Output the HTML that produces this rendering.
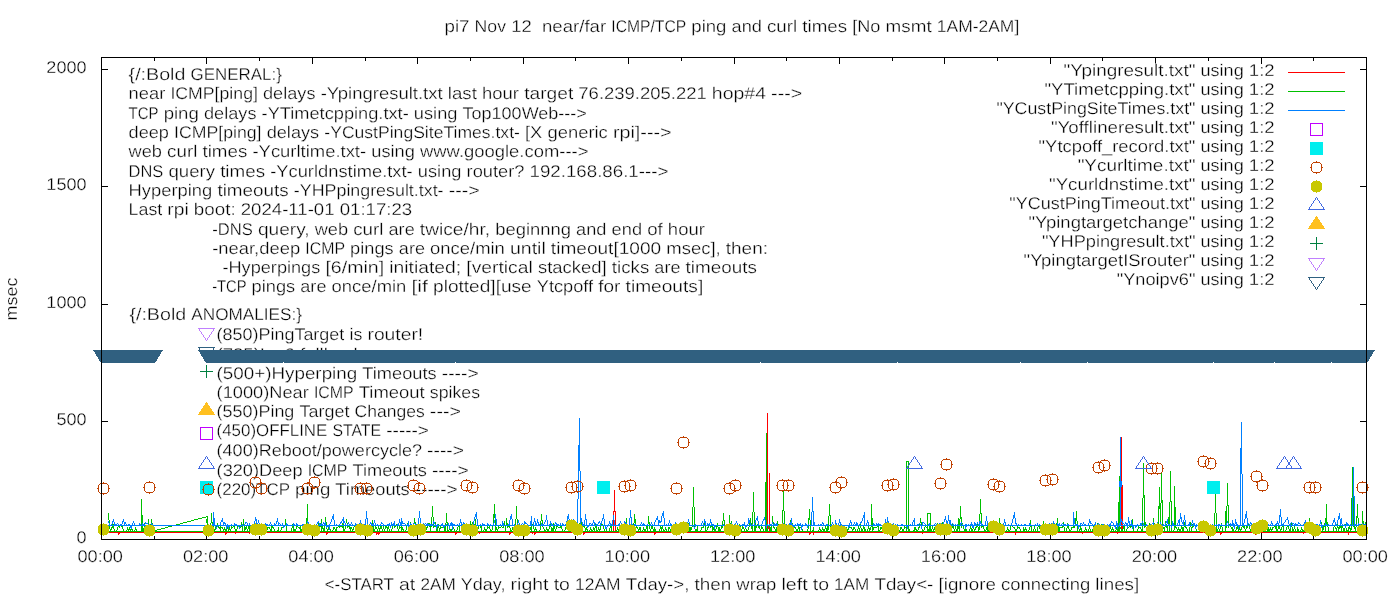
<!DOCTYPE html>
<html><head><meta charset="utf-8"><title>pi7 ping plot</title>
<style>
html,body{margin:0;padding:0;background:#fff;}
svg{display:block;}
.t text{font-family:"Liberation Sans",sans-serif;font-size:16.95px;fill:#000;stroke:#fff;stroke-width:0.3px;text-rendering:geometricPrecision;}
.t{opacity:0.995;}
</style></head><body>
<svg width="1400" height="600" viewBox="0 0 1400 600">
<rect width="1400" height="600" fill="#fff"/>
<defs><clipPath id="c725"><rect x="200" y="340" width="300" height="11"/></clipPath></defs>

<g shape-rendering="crispEdges">
<rect x="101" y="533" width="1" height="7" fill="#000"/>
<rect x="101" y="57" width="1" height="7" fill="#000"/>
<rect x="154" y="536" width="1" height="4" fill="#000"/>
<rect x="154" y="57" width="1" height="4" fill="#000"/>
<rect x="206" y="533" width="1" height="7" fill="#000"/>
<rect x="206" y="57" width="1" height="7" fill="#000"/>
<rect x="259" y="536" width="1" height="4" fill="#000"/>
<rect x="259" y="57" width="1" height="4" fill="#000"/>
<rect x="312" y="533" width="1" height="7" fill="#000"/>
<rect x="312" y="57" width="1" height="7" fill="#000"/>
<rect x="365" y="536" width="1" height="4" fill="#000"/>
<rect x="365" y="57" width="1" height="4" fill="#000"/>
<rect x="417" y="533" width="1" height="7" fill="#000"/>
<rect x="417" y="57" width="1" height="7" fill="#000"/>
<rect x="470" y="536" width="1" height="4" fill="#000"/>
<rect x="470" y="57" width="1" height="4" fill="#000"/>
<rect x="523" y="533" width="1" height="7" fill="#000"/>
<rect x="523" y="57" width="1" height="7" fill="#000"/>
<rect x="575" y="536" width="1" height="4" fill="#000"/>
<rect x="575" y="57" width="1" height="4" fill="#000"/>
<rect x="628" y="533" width="1" height="7" fill="#000"/>
<rect x="628" y="57" width="1" height="7" fill="#000"/>
<rect x="681" y="536" width="1" height="4" fill="#000"/>
<rect x="681" y="57" width="1" height="4" fill="#000"/>
<rect x="734" y="533" width="1" height="7" fill="#000"/>
<rect x="734" y="57" width="1" height="7" fill="#000"/>
<rect x="786" y="536" width="1" height="4" fill="#000"/>
<rect x="786" y="57" width="1" height="4" fill="#000"/>
<rect x="839" y="533" width="1" height="7" fill="#000"/>
<rect x="839" y="57" width="1" height="7" fill="#000"/>
<rect x="892" y="536" width="1" height="4" fill="#000"/>
<rect x="892" y="57" width="1" height="4" fill="#000"/>
<rect x="944" y="533" width="1" height="7" fill="#000"/>
<rect x="944" y="57" width="1" height="7" fill="#000"/>
<rect x="997" y="536" width="1" height="4" fill="#000"/>
<rect x="997" y="57" width="1" height="4" fill="#000"/>
<rect x="1050" y="533" width="1" height="7" fill="#000"/>
<rect x="1050" y="57" width="1" height="7" fill="#000"/>
<rect x="1102" y="536" width="1" height="4" fill="#000"/>
<rect x="1102" y="57" width="1" height="4" fill="#000"/>
<rect x="1155" y="533" width="1" height="7" fill="#000"/>
<rect x="1155" y="57" width="1" height="7" fill="#000"/>
<rect x="1208" y="536" width="1" height="4" fill="#000"/>
<rect x="1208" y="57" width="1" height="4" fill="#000"/>
<rect x="1261" y="533" width="1" height="7" fill="#000"/>
<rect x="1261" y="57" width="1" height="7" fill="#000"/>
<rect x="1313" y="536" width="1" height="4" fill="#000"/>
<rect x="1313" y="57" width="1" height="4" fill="#000"/>
<rect x="1366" y="533" width="1" height="7" fill="#000"/>
<rect x="1366" y="57" width="1" height="7" fill="#000"/>
<rect x="101" y="539" width="7" height="1" fill="#000"/>
<rect x="1360" y="539" width="7" height="1" fill="#000"/>
<rect x="101" y="421" width="7" height="1" fill="#000"/>
<rect x="1360" y="421" width="7" height="1" fill="#000"/>
<rect x="101" y="304" width="7" height="1" fill="#000"/>
<rect x="1360" y="304" width="7" height="1" fill="#000"/>
<rect x="101" y="186" width="7" height="1" fill="#000"/>
<rect x="1360" y="186" width="7" height="1" fill="#000"/>
<rect x="101" y="69" width="7" height="1" fill="#000"/>
<rect x="1360" y="69" width="7" height="1" fill="#000"/>
</g>
<g class="t">
<text x="77.53" y="562.00" textLength="45.45" lengthAdjust="spacingAndGlyphs">00:00</text>
<text x="182.94" y="562.00" textLength="45.45" lengthAdjust="spacingAndGlyphs">02:00</text>
<text x="288.36" y="562.00" textLength="45.45" lengthAdjust="spacingAndGlyphs">04:00</text>
<text x="393.78" y="562.00" textLength="45.45" lengthAdjust="spacingAndGlyphs">06:00</text>
<text x="499.19" y="562.00" textLength="45.45" lengthAdjust="spacingAndGlyphs">08:00</text>
<text x="604.61" y="562.00" textLength="45.45" lengthAdjust="spacingAndGlyphs">10:00</text>
<text x="710.03" y="562.00" textLength="45.45" lengthAdjust="spacingAndGlyphs">12:00</text>
<text x="815.44" y="562.00" textLength="45.45" lengthAdjust="spacingAndGlyphs">14:00</text>
<text x="920.86" y="562.00" textLength="45.45" lengthAdjust="spacingAndGlyphs">16:00</text>
<text x="1026.28" y="562.00" textLength="45.45" lengthAdjust="spacingAndGlyphs">18:00</text>
<text x="1131.69" y="562.00" textLength="45.45" lengthAdjust="spacingAndGlyphs">20:00</text>
<text x="1237.11" y="562.00" textLength="45.45" lengthAdjust="spacingAndGlyphs">22:00</text>
<text x="1342.53" y="562.00" textLength="45.45" lengthAdjust="spacingAndGlyphs">00:00</text>
<text x="76.47" y="543.00" textLength="10.03" lengthAdjust="spacingAndGlyphs">0</text>
<text x="56.40" y="425.00" textLength="30.10" lengthAdjust="spacingAndGlyphs">500</text>
<text x="46.36" y="308.00" textLength="40.14" lengthAdjust="spacingAndGlyphs">1000</text>
<text x="46.36" y="190.00" textLength="40.14" lengthAdjust="spacingAndGlyphs">1500</text>
<text x="46.36" y="73.00" textLength="40.14" lengthAdjust="spacingAndGlyphs">2000</text>
<text x="444.54" y="32.00" textLength="24.96" lengthAdjust="spacingAndGlyphs">pi7</text><text x="474.62" y="32.00" textLength="31.44" lengthAdjust="spacingAndGlyphs">Nov</text><text x="511.19" y="32.00" textLength="20.51" lengthAdjust="spacingAndGlyphs">12</text><text x="541.95" y="32.00" textLength="64.21" lengthAdjust="spacingAndGlyphs">near/far</text><text x="611.29" y="32.00" textLength="74.91" lengthAdjust="spacingAndGlyphs">ICMP/TCP</text><text x="691.32" y="32.00" textLength="35.13" lengthAdjust="spacingAndGlyphs">ping</text><text x="731.58" y="32.00" textLength="30.31" lengthAdjust="spacingAndGlyphs">and</text><text x="767.01" y="32.00" textLength="30.16" lengthAdjust="spacingAndGlyphs">curl</text><text x="802.30" y="32.00" textLength="44.80" lengthAdjust="spacingAndGlyphs">times</text><text x="852.23" y="32.00" textLength="28.20" lengthAdjust="spacingAndGlyphs">[No</text><text x="885.56" y="32.00" textLength="46.11" lengthAdjust="spacingAndGlyphs">msmt</text><text x="936.79" y="32.00" textLength="82.47" lengthAdjust="spacingAndGlyphs">1AM-2AM]</text>
<text x="324.77" y="590.00" textLength="69.16" lengthAdjust="spacingAndGlyphs">&lt;-START</text><text x="399.07" y="590.00" textLength="16.23" lengthAdjust="spacingAndGlyphs">at</text><text x="420.43" y="590.00" textLength="35.24" lengthAdjust="spacingAndGlyphs">2AM</text><text x="460.80" y="590.00" textLength="44.68" lengthAdjust="spacingAndGlyphs">Yday,</text><text x="510.61" y="590.00" textLength="37.92" lengthAdjust="spacingAndGlyphs">right</text><text x="553.67" y="590.00" textLength="16.21" lengthAdjust="spacingAndGlyphs">to</text><text x="575.01" y="590.00" textLength="45.51" lengthAdjust="spacingAndGlyphs">12AM</text><text x="625.66" y="590.00" textLength="63.74" lengthAdjust="spacingAndGlyphs">Tday-&gt;,</text><text x="694.53" y="590.00" textLength="36.70" lengthAdjust="spacingAndGlyphs">then</text><text x="736.37" y="590.00" textLength="39.97" lengthAdjust="spacingAndGlyphs">wrap</text><text x="781.47" y="590.00" textLength="26.15" lengthAdjust="spacingAndGlyphs">left</text><text x="812.76" y="590.00" textLength="16.21" lengthAdjust="spacingAndGlyphs">to</text><text x="834.10" y="590.00" textLength="35.24" lengthAdjust="spacingAndGlyphs">1AM</text><text x="874.48" y="590.00" textLength="58.89" lengthAdjust="spacingAndGlyphs">Tday&lt;-</text><text x="938.50" y="590.00" textLength="57.34" lengthAdjust="spacingAndGlyphs">[ignore</text><text x="1000.98" y="590.00" textLength="89.27" lengthAdjust="spacingAndGlyphs">connecting</text><text x="1095.39" y="590.00" textLength="43.84" lengthAdjust="spacingAndGlyphs">lines]</text>
<g transform="translate(17,299) rotate(-90)">
<text x="-21.46" y="0.00" textLength="42.93" lengthAdjust="spacingAndGlyphs">msec</text>
</g>
</g>
<g class="t">
<text x="128.60" y="80.00" textLength="56.82" lengthAdjust="spacingAndGlyphs">{/:Bold</text><text x="190.56" y="80.00" textLength="91.27" lengthAdjust="spacingAndGlyphs">GENERAL:}</text>
<text x="128.60" y="99.40" textLength="36.67" lengthAdjust="spacingAndGlyphs">near</text><text x="170.41" y="99.40" textLength="87.48" lengthAdjust="spacingAndGlyphs">ICMP[ping]</text><text x="263.02" y="99.40" textLength="52.51" lengthAdjust="spacingAndGlyphs">delays</text><text x="320.66" y="99.40" textLength="121.99" lengthAdjust="spacingAndGlyphs">-Ypingresult.txt</text><text x="447.79" y="99.40" textLength="29.13" lengthAdjust="spacingAndGlyphs">last</text><text x="482.05" y="99.40" textLength="36.96" lengthAdjust="spacingAndGlyphs">hour</text><text x="524.15" y="99.40" textLength="49.07" lengthAdjust="spacingAndGlyphs">target</text><text x="578.35" y="99.40" textLength="128.39" lengthAdjust="spacingAndGlyphs">76.239.205.221</text><text x="711.88" y="99.40" textLength="54.13" lengthAdjust="spacingAndGlyphs">hop#4</text><text x="771.14" y="99.40" textLength="31.00" lengthAdjust="spacingAndGlyphs">---&gt;</text>
<text x="128.60" y="118.60" textLength="29.92" lengthAdjust="spacingAndGlyphs">TCP</text><text x="163.65" y="118.60" textLength="35.19" lengthAdjust="spacingAndGlyphs">ping</text><text x="203.98" y="118.60" textLength="52.51" lengthAdjust="spacingAndGlyphs">delays</text><text x="261.62" y="118.60" textLength="147.10" lengthAdjust="spacingAndGlyphs">-YTimetcpping.txt-</text><text x="413.86" y="118.60" textLength="43.59" lengthAdjust="spacingAndGlyphs">using</text><text x="462.58" y="118.60" textLength="124.23" lengthAdjust="spacingAndGlyphs">Top100Web---&gt;</text>
<text x="128.60" y="137.70" textLength="40.33" lengthAdjust="spacingAndGlyphs">deep</text><text x="174.06" y="137.70" textLength="87.48" lengthAdjust="spacingAndGlyphs">ICMP[ping]</text><text x="266.68" y="137.70" textLength="52.51" lengthAdjust="spacingAndGlyphs">delays</text><text x="324.32" y="137.70" textLength="195.56" lengthAdjust="spacingAndGlyphs">-YCustPingSiteTimes.txt-</text><text x="525.01" y="137.70" textLength="17.36" lengthAdjust="spacingAndGlyphs">[X</text><text x="547.51" y="137.70" textLength="60.30" lengthAdjust="spacingAndGlyphs">generic</text><text x="612.95" y="137.70" textLength="58.66" lengthAdjust="spacingAndGlyphs">rpi]---&gt;</text>
<text x="128.60" y="156.80" textLength="33.37" lengthAdjust="spacingAndGlyphs">web</text><text x="167.10" y="156.80" textLength="30.21" lengthAdjust="spacingAndGlyphs">curl</text><text x="202.45" y="156.80" textLength="44.88" lengthAdjust="spacingAndGlyphs">times</text><text x="252.47" y="156.80" textLength="113.64" lengthAdjust="spacingAndGlyphs">-Ycurltime.txt-</text><text x="371.25" y="156.80" textLength="43.59" lengthAdjust="spacingAndGlyphs">using</text><text x="419.97" y="156.80" textLength="168.51" lengthAdjust="spacingAndGlyphs">www.google.com---&gt;</text>
<text x="128.60" y="176.60" textLength="34.74" lengthAdjust="spacingAndGlyphs">DNS</text><text x="168.47" y="176.60" textLength="46.57" lengthAdjust="spacingAndGlyphs">query</text><text x="220.17" y="176.60" textLength="44.88" lengthAdjust="spacingAndGlyphs">times</text><text x="270.19" y="176.60" textLength="142.52" lengthAdjust="spacingAndGlyphs">-Ycurldnstime.txt-</text><text x="417.84" y="176.60" textLength="43.59" lengthAdjust="spacingAndGlyphs">using</text><text x="466.57" y="176.60" textLength="57.85" lengthAdjust="spacingAndGlyphs">router?</text><text x="529.55" y="176.60" textLength="138.85" lengthAdjust="spacingAndGlyphs">192.168.86.1---&gt;</text>
<text x="128.60" y="195.60" textLength="83.66" lengthAdjust="spacingAndGlyphs">Hyperping</text><text x="217.40" y="195.60" textLength="71.31" lengthAdjust="spacingAndGlyphs">timeouts</text><text x="293.85" y="195.60" textLength="149.69" lengthAdjust="spacingAndGlyphs">-YHPpingresult.txt-</text><text x="448.67" y="195.60" textLength="31.00" lengthAdjust="spacingAndGlyphs">---&gt;</text>
<text x="128.60" y="214.70" textLength="33.63" lengthAdjust="spacingAndGlyphs">Last</text><text x="167.37" y="214.70" textLength="21.36" lengthAdjust="spacingAndGlyphs">rpi</text><text x="193.87" y="214.70" textLength="41.76" lengthAdjust="spacingAndGlyphs">boot:</text><text x="240.76" y="214.70" textLength="93.83" lengthAdjust="spacingAndGlyphs">2024-11-01</text><text x="339.72" y="214.70" textLength="72.50" lengthAdjust="spacingAndGlyphs">01:17:23</text>
<text x="212.20" y="234.80" textLength="40.56" lengthAdjust="spacingAndGlyphs">-DNS</text><text x="257.90" y="234.80" textLength="51.70" lengthAdjust="spacingAndGlyphs">query,</text><text x="314.74" y="234.80" textLength="33.37" lengthAdjust="spacingAndGlyphs">web</text><text x="353.24" y="234.80" textLength="30.21" lengthAdjust="spacingAndGlyphs">curl</text><text x="388.59" y="234.80" textLength="26.10" lengthAdjust="spacingAndGlyphs">are</text><text x="419.83" y="234.80" textLength="70.24" lengthAdjust="spacingAndGlyphs">twice/hr,</text><text x="495.20" y="234.80" textLength="75.80" lengthAdjust="spacingAndGlyphs">beginnng</text><text x="576.14" y="234.80" textLength="30.36" lengthAdjust="spacingAndGlyphs">and</text><text x="611.64" y="234.80" textLength="30.39" lengthAdjust="spacingAndGlyphs">end</text><text x="647.16" y="234.80" textLength="15.56" lengthAdjust="spacingAndGlyphs">of</text><text x="667.86" y="234.80" textLength="36.96" lengthAdjust="spacingAndGlyphs">hour</text>
<text x="212.20" y="253.80" textLength="87.97" lengthAdjust="spacingAndGlyphs">-near,deep</text><text x="305.30" y="253.80" textLength="39.68" lengthAdjust="spacingAndGlyphs">ICMP</text><text x="350.12" y="253.80" textLength="43.60" lengthAdjust="spacingAndGlyphs">pings</text><text x="398.86" y="253.80" textLength="26.10" lengthAdjust="spacingAndGlyphs">are</text><text x="430.10" y="253.80" textLength="74.76" lengthAdjust="spacingAndGlyphs">once/min</text><text x="510.00" y="253.80" textLength="35.76" lengthAdjust="spacingAndGlyphs">until</text><text x="550.89" y="253.80" textLength="110.29" lengthAdjust="spacingAndGlyphs">timeout[1000</text><text x="666.32" y="253.80" textLength="54.36" lengthAdjust="spacingAndGlyphs">msec],</text><text x="725.81" y="253.80" textLength="42.14" lengthAdjust="spacingAndGlyphs">then:</text>
<text x="222.40" y="272.90" textLength="97.91" lengthAdjust="spacingAndGlyphs">-Hyperpings</text><text x="325.44" y="272.90" textLength="58.74" lengthAdjust="spacingAndGlyphs">[6/min]</text><text x="389.32" y="272.90" textLength="71.85" lengthAdjust="spacingAndGlyphs">initiated;</text><text x="466.31" y="272.90" textLength="66.48" lengthAdjust="spacingAndGlyphs">[vertical</text><text x="537.92" y="272.90" textLength="68.75" lengthAdjust="spacingAndGlyphs">stacked]</text><text x="611.80" y="272.90" textLength="37.45" lengthAdjust="spacingAndGlyphs">ticks</text><text x="654.38" y="272.90" textLength="26.10" lengthAdjust="spacingAndGlyphs">are</text><text x="685.62" y="272.90" textLength="71.31" lengthAdjust="spacingAndGlyphs">timeouts</text>
<text x="212.20" y="292.00" textLength="34.26" lengthAdjust="spacingAndGlyphs">-TCP</text><text x="251.60" y="292.00" textLength="43.60" lengthAdjust="spacingAndGlyphs">pings</text><text x="300.34" y="292.00" textLength="26.10" lengthAdjust="spacingAndGlyphs">are</text><text x="331.58" y="292.00" textLength="74.76" lengthAdjust="spacingAndGlyphs">once/min</text><text x="411.48" y="292.00" textLength="16.48" lengthAdjust="spacingAndGlyphs">[if</text><text x="433.09" y="292.00" textLength="98.60" lengthAdjust="spacingAndGlyphs">plotted][use</text><text x="536.82" y="292.00" textLength="56.30" lengthAdjust="spacingAndGlyphs">Ytcpoff</text><text x="598.26" y="292.00" textLength="22.20" lengthAdjust="spacingAndGlyphs">for</text><text x="625.59" y="292.00" textLength="77.62" lengthAdjust="spacingAndGlyphs">timeouts]</text>
<text x="129.40" y="320.00" textLength="56.82" lengthAdjust="spacingAndGlyphs">{/:Bold</text><text x="191.36" y="320.00" textLength="110.67" lengthAdjust="spacingAndGlyphs">ANOMALIES:}</text>
<text x="216.60" y="340.40" textLength="127.69" lengthAdjust="spacingAndGlyphs">(850)PingTarget</text><text x="349.43" y="340.40" textLength="12.90" lengthAdjust="spacingAndGlyphs">is</text><text x="367.47" y="340.40" textLength="55.75" lengthAdjust="spacingAndGlyphs">router!</text>
<g clip-path="url(#c725)">
<text x="216.60" y="359.70" textLength="78.23" lengthAdjust="spacingAndGlyphs">(725)Ipv6</text><text x="299.97" y="359.70" textLength="62.90" lengthAdjust="spacingAndGlyphs">fallback</text>
</g>
<text x="216.60" y="378.70" textLength="140.60" lengthAdjust="spacingAndGlyphs">(500+)Hyperping</text><text x="362.33" y="378.70" textLength="74.35" lengthAdjust="spacingAndGlyphs">Timeouts</text><text x="441.82" y="378.70" textLength="36.83" lengthAdjust="spacingAndGlyphs">----&gt;</text>
<text x="216.60" y="397.80" textLength="92.20" lengthAdjust="spacingAndGlyphs">(1000)Near</text><text x="313.94" y="397.80" textLength="39.68" lengthAdjust="spacingAndGlyphs">ICMP</text><text x="358.76" y="397.80" textLength="65.94" lengthAdjust="spacingAndGlyphs">Timeout</text><text x="429.83" y="397.80" textLength="50.25" lengthAdjust="spacingAndGlyphs">spikes</text>
<text x="216.60" y="417.20" textLength="77.76" lengthAdjust="spacingAndGlyphs">(550)Ping</text><text x="299.49" y="417.20" textLength="49.94" lengthAdjust="spacingAndGlyphs">Target</text><text x="354.57" y="417.20" textLength="70.18" lengthAdjust="spacingAndGlyphs">Changes</text><text x="429.88" y="417.20" textLength="31.00" lengthAdjust="spacingAndGlyphs">---&gt;</text>
<text x="216.60" y="436.40" textLength="110.68" lengthAdjust="spacingAndGlyphs">(450)OFFLINE</text><text x="332.42" y="436.40" textLength="48.71" lengthAdjust="spacingAndGlyphs">STATE</text><text x="386.26" y="436.40" textLength="42.66" lengthAdjust="spacingAndGlyphs">-----&gt;</text>
<text x="216.60" y="455.70" textLength="205.39" lengthAdjust="spacingAndGlyphs">(400)Reboot/powercycle?</text><text x="427.12" y="455.70" textLength="36.83" lengthAdjust="spacingAndGlyphs">----&gt;</text>
<text x="216.60" y="475.70" textLength="85.93" lengthAdjust="spacingAndGlyphs">(320)Deep</text><text x="307.67" y="475.70" textLength="39.68" lengthAdjust="spacingAndGlyphs">ICMP</text><text x="352.49" y="475.70" textLength="74.35" lengthAdjust="spacingAndGlyphs">Timeouts</text><text x="431.98" y="475.70" textLength="36.83" lengthAdjust="spacingAndGlyphs">----&gt;</text>
<text x="216.60" y="494.60" textLength="73.33" lengthAdjust="spacingAndGlyphs">(220)TCP</text><text x="295.07" y="494.60" textLength="35.19" lengthAdjust="spacingAndGlyphs">ping</text><text x="335.39" y="494.60" textLength="74.35" lengthAdjust="spacingAndGlyphs">Timeouts</text><text x="414.88" y="494.60" textLength="42.66" lengthAdjust="spacingAndGlyphs">-----&gt;</text>
</g>
<g class="t">
<text x="1063.58" y="75.60" textLength="131.83" lengthAdjust="spacingAndGlyphs">"Ypingresult.txt"</text><text x="1200.51" y="75.60" textLength="43.23" lengthAdjust="spacingAndGlyphs">using</text><text x="1248.83" y="75.60" textLength="25.77" lengthAdjust="spacingAndGlyphs">1:2</text>
<text x="1044.46" y="94.60" textLength="150.95" lengthAdjust="spacingAndGlyphs">"YTimetcpping.txt"</text><text x="1200.51" y="94.60" textLength="43.23" lengthAdjust="spacingAndGlyphs">using</text><text x="1248.83" y="94.60" textLength="25.77" lengthAdjust="spacingAndGlyphs">1:2</text>
<text x="996.40" y="113.60" textLength="199.02" lengthAdjust="spacingAndGlyphs">"YCustPingSiteTimes.txt"</text><text x="1200.51" y="113.60" textLength="43.23" lengthAdjust="spacingAndGlyphs">using</text><text x="1248.83" y="113.60" textLength="25.77" lengthAdjust="spacingAndGlyphs">1:2</text>
<text x="1050.91" y="132.60" textLength="144.50" lengthAdjust="spacingAndGlyphs">"Yofflineresult.txt"</text><text x="1200.51" y="132.60" textLength="43.23" lengthAdjust="spacingAndGlyphs">using</text><text x="1248.83" y="132.60" textLength="25.77" lengthAdjust="spacingAndGlyphs">1:2</text>
<text x="1038.60" y="151.60" textLength="156.81" lengthAdjust="spacingAndGlyphs">"Ytcpoff_record.txt"</text><text x="1200.51" y="151.60" textLength="43.23" lengthAdjust="spacingAndGlyphs">using</text><text x="1248.83" y="151.60" textLength="25.77" lengthAdjust="spacingAndGlyphs">1:2</text>
<text x="1077.65" y="170.60" textLength="117.77" lengthAdjust="spacingAndGlyphs">"Ycurltime.txt"</text><text x="1200.51" y="170.60" textLength="43.23" lengthAdjust="spacingAndGlyphs">using</text><text x="1248.83" y="170.60" textLength="25.77" lengthAdjust="spacingAndGlyphs">1:2</text>
<text x="1049.01" y="189.60" textLength="146.41" lengthAdjust="spacingAndGlyphs">"Ycurldnstime.txt"</text><text x="1200.51" y="189.60" textLength="43.23" lengthAdjust="spacingAndGlyphs">using</text><text x="1248.83" y="189.60" textLength="25.77" lengthAdjust="spacingAndGlyphs">1:2</text>
<text x="1009.26" y="208.60" textLength="186.16" lengthAdjust="spacingAndGlyphs">"YCustPingTimeout.txt"</text><text x="1200.51" y="208.60" textLength="43.23" lengthAdjust="spacingAndGlyphs">using</text><text x="1248.83" y="208.60" textLength="25.77" lengthAdjust="spacingAndGlyphs">1:2</text>
<text x="1028.44" y="227.60" textLength="166.97" lengthAdjust="spacingAndGlyphs">"Ypingtargetchange"</text><text x="1200.51" y="227.60" textLength="43.23" lengthAdjust="spacingAndGlyphs">using</text><text x="1248.83" y="227.60" textLength="25.77" lengthAdjust="spacingAndGlyphs">1:2</text>
<text x="1041.90" y="246.60" textLength="153.52" lengthAdjust="spacingAndGlyphs">"YHPpingresult.txt"</text><text x="1200.51" y="246.60" textLength="43.23" lengthAdjust="spacingAndGlyphs">using</text><text x="1248.83" y="246.60" textLength="25.77" lengthAdjust="spacingAndGlyphs">1:2</text>
<text x="1023.58" y="265.60" textLength="171.83" lengthAdjust="spacingAndGlyphs">"YpingtargetISrouter"</text><text x="1200.51" y="265.60" textLength="43.23" lengthAdjust="spacingAndGlyphs">using</text><text x="1248.83" y="265.60" textLength="25.77" lengthAdjust="spacingAndGlyphs">1:2</text>
<text x="1116.71" y="284.60" textLength="78.70" lengthAdjust="spacingAndGlyphs">"Ynoipv6"</text><text x="1200.51" y="284.60" textLength="43.23" lengthAdjust="spacingAndGlyphs">using</text><text x="1248.83" y="284.60" textLength="25.77" lengthAdjust="spacingAndGlyphs">1:2</text>
</g>
<path d="M206.5 340.5L198.5 328.5L214.5 328.5Z" fill="none" stroke="#c080ff" stroke-width="1" shape-rendering="crispEdges"/>
<path d="M206.5 359.5L198.5 347.5L214.5 347.5Z" fill="none" stroke="#306080" stroke-width="1" shape-rendering="crispEdges"/>
<path d="M200.0 371.5h13M206.5 365.0v13" stroke="#008040" stroke-width="1" fill="none" shape-rendering="crispEdges"/>
<path d="M206.5 402.5L198.5 414.5L214.5 414.5Z" fill="#ffc020" stroke="#ffc020" stroke-width="1" shape-rendering="crispEdges"/>
<rect x="200.5" y="427.5" width="12" height="12" fill="none" stroke="#c000ff" shape-rendering="crispEdges"/>
<g>
<rect x="102" y="532" width="1264" height="1" fill="#ff0000" shape-rendering="crispEdges"/>
<path d="M108.5 532V533M109.5 532V533M110.5 532V533M111.5 532V533M112.5 532V533M113.5 532V533M114.5 532V533M115.5 532V533M116.5 532V533M117.5 532V533M118.5 533V535M119.5 532V534M120.5 532V533M121.5 532V533M122.5 532V533M123.5 532V533M124.5 532V533M125.5 532V533M126.5 532V533M127.5 532V533M128.5 532V533M129.5 532V533M130.5 532V533M131.5 532V533M132.5 532V533M133.5 532V533M134.5 532V533M135.5 532V533M136.5 532V533M137.5 532V533M138.5 532V533M139.5 532V533M140.5 532V533M141.5 532V533M142.5 532V533M143.5 532V533M144.5 532V533M145.5 532V533M146.5 532V533M147.5 532V533M148.5 532V533M149.5 532V533M150.5 532V533M151.5 532V533M152.5 533V535M206.5 532V533M207.5 532V533M208.5 532V533M209.5 532V533M210.5 532V533M211.5 532V533M212.5 532V533M213.5 532V533M214.5 532V533M215.5 532V533M216.5 532V533M217.5 532V533M218.5 532V533M219.5 532V533M220.5 532V533M221.5 532V533M222.5 532V533M223.5 532V533M224.5 532V533M225.5 533V535M226.5 532V534M227.5 532V533M228.5 532V533M229.5 532V533M230.5 532V533M231.5 532V533M232.5 532V533M233.5 532V533M234.5 532V533M235.5 532V534M236.5 532V533M237.5 532V533M238.5 532V533M239.5 532V533M240.5 532V533M241.5 532V533M242.5 532V533M243.5 532V533M244.5 532V533M245.5 532V533M246.5 532V533M247.5 532V533M248.5 532V533M249.5 532V534M250.5 532V533M251.5 532V533M252.5 532V533M253.5 532V533M254.5 532V533M255.5 532V533M256.5 532V533M257.5 532V533M258.5 532V533M259.5 533V535M260.5 532V534M261.5 532V533M262.5 532V533M263.5 532V533M264.5 532V533M265.5 532V533M266.5 532V533M267.5 532V533M268.5 532V533M269.5 532V533M270.5 532V533M271.5 532V533M272.5 532V533M273.5 532V533M274.5 532V533M275.5 532V533M276.5 532V533M277.5 532V533M278.5 532V533M279.5 532V533M280.5 532V533M281.5 532V533M282.5 532V533M283.5 532V533M284.5 532V533M285.5 532V533M286.5 532V533M287.5 532V533M288.5 532V533M289.5 532V533M290.5 532V533M291.5 532V533M292.5 532V533M293.5 532V533M294.5 532V533M295.5 532V533M296.5 532V533M297.5 532V533M298.5 532V533M299.5 532V533M300.5 532V533M301.5 532V533M302.5 532V533M303.5 532V533M304.5 532V533M305.5 532V533M306.5 532V533M307.5 532V533M308.5 532V533M309.5 532V533M310.5 532V533M311.5 532V533M312.5 532V533M313.5 532V533M314.5 532V533M315.5 532V533M316.5 532V533M317.5 532V533M318.5 532V533M319.5 532V533M320.5 532V533M321.5 532V533M322.5 532V533M323.5 532V533M324.5 532V533M325.5 532V533M326.5 533V535M327.5 532V534M328.5 532V533M329.5 532V533M330.5 532V533M331.5 532V533M332.5 532V533M333.5 532V533M334.5 532V533M335.5 532V533M336.5 532V533M337.5 532V533M338.5 532V533M339.5 532V533M340.5 532V533M341.5 532V533M342.5 532V533M343.5 532V533M344.5 532V533M345.5 532V533M346.5 532V533M347.5 532V533M348.5 532V533M349.5 532V533M350.5 532V533M351.5 532V533M352.5 532V533M353.5 532V533M354.5 532V533M355.5 532V533M356.5 532V533M357.5 532V533M358.5 532V533M359.5 532V533M360.5 532V533M361.5 532V533M362.5 533V535M363.5 532V534M364.5 532V533M365.5 532V533M366.5 532V533M367.5 532V533M368.5 532V533M369.5 532V533M370.5 532V533M371.5 532V533M372.5 532V533M373.5 532V533M374.5 532V533M375.5 532V533M376.5 533V535M377.5 532V534M378.5 533V535M379.5 532V534M380.5 532V533M381.5 532V533M382.5 532V533M383.5 532V533M384.5 532V533M385.5 532V533M386.5 532V533M387.5 532V533M388.5 532V533M389.5 532V533M390.5 532V533M391.5 532V533M392.5 532V533M393.5 532V533M394.5 532V533M395.5 532V533M396.5 532V533M397.5 532V533M398.5 532V533M399.5 532V533M400.5 532V533M401.5 532V533M402.5 532V533M403.5 532V533M404.5 532V533M405.5 532V533M406.5 532V533M407.5 532V533M408.5 532V533M409.5 532V533M410.5 532V533M411.5 532V533M412.5 532V533M413.5 532V533M414.5 532V533M415.5 532V533M416.5 532V533M417.5 532V533M418.5 532V533M419.5 532V533M420.5 532V533M421.5 532V533M422.5 532V533M423.5 532V533M424.5 532V533M425.5 532V533M426.5 532V533M427.5 532V533M428.5 532V533M429.5 532V533M430.5 532V533M431.5 532V533M432.5 532V533M433.5 532V533M434.5 532V533M435.5 532V533M436.5 532V533M437.5 532V533M438.5 532V533M439.5 532V533M440.5 532V533M441.5 532V533M442.5 532V533M443.5 532V533M444.5 532V533M445.5 532V533M446.5 532V533M447.5 532V533M448.5 532V533M449.5 532V533M450.5 532V533M451.5 532V533M452.5 532V533M453.5 532V533M454.5 532V533M455.5 533V535M456.5 532V534M457.5 532V533M458.5 532V533M459.5 532V533M460.5 532V533M461.5 532V533M462.5 532V533M463.5 532V533M464.5 532V533M465.5 532V533M466.5 532V533M467.5 532V533M468.5 532V533M469.5 532V533M470.5 532V533M471.5 532V533M472.5 532V533M473.5 532V533M474.5 532V533M475.5 532V533M476.5 532V533M477.5 532V533M478.5 532V533M479.5 533V534M480.5 532V533M481.5 532V533M482.5 532V533M483.5 532V533M484.5 532V533M485.5 532V533M486.5 532V533M487.5 532V533M488.5 532V533M489.5 532V533M490.5 532V533M491.5 532V533M492.5 532V533M493.5 532V533M494.5 532V533M495.5 532V533M496.5 532V533M497.5 532V533M498.5 532V533M499.5 532V533M500.5 532V533M501.5 532V533M502.5 532V533M503.5 532V533M504.5 532V533M505.5 532V533M506.5 532V533M507.5 532V533M508.5 532V533M509.5 532V535M510.5 533V534M511.5 532V533M512.5 532V533M513.5 532V533M514.5 532V533M515.5 532V533M516.5 532V533M517.5 532V533M518.5 532V533M519.5 532V533M520.5 532V533M521.5 532V533M522.5 532V533M523.5 532V533M524.5 532V533M525.5 532V533M526.5 532V533M527.5 532V533M528.5 532V533M529.5 532V533M530.5 532V533M531.5 532V533M532.5 533V534M533.5 532V533M534.5 533V535M535.5 532V534M536.5 532V533M537.5 532V533M538.5 532V533M539.5 532V533M540.5 532V533M541.5 532V533M542.5 532V533M543.5 532V533M544.5 532V533M545.5 532V533M546.5 532V533M547.5 532V533M548.5 532V533M549.5 532V533M550.5 532V533M551.5 532V533M552.5 532V533M553.5 532V533M554.5 532V533M555.5 532V533M556.5 532V533M557.5 532V533M558.5 532V533M559.5 532V533M560.5 532V533M561.5 532V533M562.5 532V533M563.5 532V533M564.5 532V533M565.5 532V533M566.5 532V533M567.5 532V533M568.5 532V533M569.5 532V533M570.5 532V533M571.5 532V533M572.5 532V533M573.5 533V534M574.5 532V533M575.5 532V533M576.5 532V533M577.5 532V533M578.5 532V533M579.5 532V533M580.5 532V533M581.5 532V533M582.5 532V533M583.5 533V535M584.5 532V534M585.5 532V533M586.5 532V533M587.5 532V533M588.5 532V533M589.5 532V533M590.5 532V533M591.5 532V533M592.5 532V533M593.5 532V533M594.5 532V533M595.5 532V533M596.5 532V533M597.5 532V533M598.5 532V533M599.5 532V533M600.5 532V533M601.5 532V533M602.5 532V533M603.5 532V533M604.5 532V533M605.5 532V533M606.5 532V533M607.5 532V533M608.5 532V533M609.5 532V533M610.5 532V533M611.5 532V533M612.5 532V533M613.5 511V533M614.5 490V512M614.5 532V533M615.5 511V533M616.5 532V533M617.5 532V533M618.5 532V533M619.5 532V533M620.5 532V533M621.5 532V533M622.5 532V533M623.5 532V533M624.5 532V533M625.5 532V533M626.5 532V533M627.5 532V533M628.5 532V533M629.5 532V533M630.5 532V533M631.5 532V533M632.5 532V533M633.5 532V533M634.5 532V533M635.5 532V533M636.5 532V533M637.5 532V533M638.5 532V533M639.5 532V533M640.5 532V533M641.5 532V533M642.5 532V533M643.5 532V533M644.5 532V533M645.5 532V533M646.5 532V533M647.5 532V533M648.5 532V533M649.5 532V533M650.5 532V533M651.5 532V533M652.5 532V533M653.5 532V533M654.5 532V535M655.5 532V534M656.5 532V533M657.5 532V533M658.5 532V533M659.5 532V533M660.5 532V533M661.5 532V533M662.5 532V533M663.5 532V533M664.5 532V533M665.5 532V533M666.5 532V533M667.5 532V533M668.5 532V533M669.5 532V533M670.5 532V533M671.5 532V533M672.5 532V533M673.5 532V533M674.5 532V533M675.5 532V533M676.5 532V533M677.5 532V533M678.5 532V533M679.5 532V533M680.5 532V533M681.5 532V533M682.5 532V533M683.5 532V534M684.5 532V533M685.5 532V533M686.5 532V533M687.5 532V533M688.5 532V533M689.5 532V533M690.5 532V533M691.5 532V533M692.5 532V533M693.5 532V533M694.5 532V533M695.5 532V533M696.5 532V533M697.5 532V533M698.5 532V533M699.5 532V533M700.5 532V533M701.5 532V533M702.5 532V533M703.5 532V533M704.5 532V533M705.5 532V533M706.5 532V533M707.5 532V533M708.5 532V533M709.5 532V533M710.5 532V533M711.5 532V533M712.5 532V533M713.5 532V533M714.5 532V533M715.5 532V533M716.5 532V533M717.5 532V533M718.5 532V533M719.5 532V533M720.5 532V533M721.5 532V533M722.5 532V533M723.5 532V533M724.5 532V533M725.5 532V533M726.5 532V533M727.5 532V533M728.5 532V533M729.5 532V533M730.5 532V533M731.5 532V533M732.5 532V533M733.5 532V533M734.5 532V533M735.5 533V535M736.5 532V534M737.5 532V533M738.5 532V533M739.5 532V533M740.5 532V533M741.5 532V533M742.5 532V533M743.5 532V533M744.5 532V533M745.5 532V533M746.5 532V533M747.5 532V533M748.5 532V533M749.5 532V533M750.5 532V533M751.5 532V533M752.5 532V533M753.5 532V533M754.5 532V533M755.5 532V533M756.5 532V533M757.5 532V533M758.5 532V533M759.5 532V533M760.5 532V533M761.5 532V533M762.5 532V533M763.5 532V533M764.5 532V533M765.5 532V533M766.5 532V533M767.5 413V533M768.5 532V533M769.5 473V533M770.5 532V533M771.5 532V533M772.5 532V533M773.5 532V533M774.5 532V533M775.5 532V533M776.5 532V533M777.5 532V533M778.5 532V533M779.5 532V533M780.5 532V533M781.5 532V533M782.5 532V533M783.5 532V533M784.5 532V533M785.5 532V533M786.5 532V533M787.5 532V533M788.5 532V533M789.5 532V533M790.5 532V533M791.5 532V533M792.5 532V533M793.5 532V533M794.5 532V533M795.5 532V533M796.5 532V533M797.5 532V533M798.5 532V533M799.5 532V533M800.5 532V533M801.5 532V533M802.5 532V533M803.5 532V533M804.5 532V533M805.5 532V533M806.5 532V533M807.5 532V533M808.5 532V533M809.5 533V535M810.5 532V534M811.5 532V533M812.5 532V533M813.5 532V535M814.5 532V533M815.5 532V533M816.5 532V533M817.5 532V533M818.5 532V533M819.5 532V533M820.5 532V533M821.5 532V533M822.5 532V533M823.5 532V533M824.5 532V533M825.5 532V533M826.5 532V533M827.5 532V533M828.5 532V533M829.5 532V533M830.5 532V533M831.5 532V533M832.5 532V533M833.5 532V533M834.5 532V533M835.5 532V533M836.5 532V533M837.5 532V533M838.5 532V533M839.5 532V533M840.5 532V533M841.5 532V533M842.5 532V533M843.5 532V533M844.5 532V533M845.5 532V533M846.5 532V533M847.5 532V533M848.5 532V533M849.5 532V533M850.5 532V533M851.5 532V533M852.5 532V533M853.5 532V533M854.5 532V533M855.5 532V533M856.5 532V533M857.5 532V533M858.5 532V533M859.5 532V533M860.5 532V533M861.5 532V533M862.5 532V533M863.5 532V533M864.5 532V533M865.5 532V533M866.5 532V533M867.5 532V533M868.5 532V533M869.5 532V533M870.5 532V533M871.5 532V533M872.5 532V533M873.5 532V533M874.5 532V533M875.5 532V533M876.5 532V533M877.5 532V533M878.5 532V533M879.5 532V533M880.5 532V533M881.5 532V533M882.5 532V533M883.5 532V533M884.5 532V533M885.5 532V533M886.5 532V533M887.5 532V533M888.5 532V533M889.5 532V533M890.5 532V533M891.5 532V533M892.5 532V533M893.5 532V533M894.5 532V533M895.5 533V535M896.5 532V534M897.5 532V533M898.5 532V533M899.5 532V533M900.5 532V533M901.5 532V533M902.5 532V533M903.5 532V533M904.5 532V533M905.5 532V533M906.5 532V533M907.5 532V533M908.5 532V533M909.5 532V533M910.5 532V533M911.5 532V533M912.5 532V533M913.5 532V533M914.5 532V533M915.5 532V533M916.5 532V533M917.5 532V533M918.5 532V533M919.5 532V533M920.5 532V533M921.5 532V533M922.5 533V534M923.5 532V533M924.5 532V533M925.5 532V533M926.5 532V533M927.5 532V533M928.5 532V533M929.5 532V533M930.5 532V533M931.5 532V533M932.5 532V533M933.5 532V533M934.5 532V533M935.5 532V533M936.5 532V533M937.5 532V533M938.5 532V533M939.5 532V533M940.5 532V533M941.5 532V533M942.5 532V533M943.5 532V535M944.5 532V534M945.5 532V533M946.5 532V533M947.5 532V533M948.5 532V533M949.5 532V533M950.5 532V533M951.5 532V533M952.5 532V533M953.5 532V533M954.5 532V533M955.5 532V533M956.5 532V533M957.5 532V533M958.5 532V533M959.5 532V533M960.5 532V533M961.5 532V533M962.5 532V533M963.5 532V533M964.5 532V533M965.5 532V533M966.5 532V533M967.5 532V533M968.5 532V533M969.5 532V533M970.5 532V533M971.5 532V533M972.5 532V533M973.5 532V533M974.5 532V533M975.5 532V533M976.5 532V533M977.5 532V533M978.5 532V533M979.5 532V533M980.5 532V533M981.5 532V533M982.5 532V533M983.5 532V533M984.5 532V533M985.5 532V533M986.5 532V533M987.5 532V533M988.5 532V533M989.5 532V533M990.5 532V533M991.5 532V533M992.5 532V533M993.5 532V533M994.5 532V533M995.5 532V533M996.5 532V533M997.5 532V533M998.5 532V533M999.5 532V533M1000.5 532V533M1001.5 532V533M1002.5 532V533M1003.5 532V533M1004.5 532V533M1005.5 532V533M1006.5 532V533M1007.5 532V533M1008.5 532V533M1009.5 532V533M1010.5 532V533M1011.5 532V533M1012.5 532V533M1013.5 532V533M1014.5 532V533M1015.5 532V535M1016.5 532V533M1017.5 532V533M1018.5 532V533M1019.5 532V533M1020.5 532V533M1021.5 532V533M1022.5 532V533M1023.5 532V533M1024.5 532V533M1025.5 532V533M1026.5 532V533M1027.5 532V533M1028.5 532V533M1029.5 532V533M1030.5 532V533M1031.5 532V533M1032.5 532V533M1033.5 532V533M1034.5 532V533M1035.5 532V533M1036.5 532V533M1037.5 532V533M1038.5 532V533M1039.5 532V533M1040.5 532V533M1041.5 532V533M1042.5 532V533M1043.5 532V533M1044.5 532V533M1045.5 532V533M1046.5 532V533M1047.5 532V533M1048.5 532V533M1049.5 532V533M1050.5 532V533M1051.5 532V533M1052.5 532V534M1053.5 532V533M1054.5 532V533M1055.5 532V533M1056.5 532V533M1057.5 532V533M1058.5 532V533M1059.5 532V533M1060.5 532V533M1061.5 532V533M1062.5 532V533M1063.5 532V533M1064.5 532V533M1065.5 532V533M1066.5 532V533M1067.5 532V533M1068.5 532V533M1069.5 532V533M1070.5 532V533M1071.5 532V533M1072.5 532V533M1073.5 532V533M1074.5 532V533M1075.5 532V533M1076.5 532V533M1077.5 532V533M1078.5 532V533M1079.5 532V533M1080.5 532V533M1081.5 532V533M1082.5 533V534M1083.5 532V533M1084.5 532V533M1085.5 532V533M1086.5 532V533M1087.5 532V533M1088.5 532V533M1089.5 532V533M1090.5 532V533M1091.5 532V533M1092.5 532V533M1093.5 532V533M1094.5 532V533M1095.5 532V533M1096.5 532V533M1097.5 532V533M1098.5 532V533M1099.5 532V533M1100.5 532V533M1101.5 532V533M1102.5 532V533M1103.5 532V533M1104.5 532V533M1105.5 532V533M1106.5 532V533M1107.5 532V533M1108.5 532V533M1109.5 532V533M1110.5 532V533M1111.5 532V533M1112.5 532V533M1113.5 532V533M1114.5 532V533M1115.5 532V533M1116.5 532V533M1117.5 532V534M1118.5 532V533M1119.5 532V533M1120.5 532V533M1121.5 437V533M1122.5 485V533M1123.5 532V533M1124.5 532V533M1125.5 532V533M1126.5 532V533M1127.5 532V533M1128.5 532V533M1129.5 532V533M1130.5 532V533M1131.5 532V533M1132.5 532V533M1133.5 532V533M1134.5 532V533M1135.5 532V533M1136.5 532V533M1137.5 532V533M1138.5 532V533M1139.5 532V533M1140.5 532V533M1141.5 532V533M1142.5 532V533M1143.5 532V533M1144.5 532V533M1145.5 532V533M1146.5 532V533M1147.5 532V533M1148.5 532V533M1149.5 532V533M1150.5 532V533M1151.5 532V533M1152.5 532V533M1153.5 532V533M1154.5 532V533M1155.5 532V533M1156.5 532V533M1157.5 532V533M1158.5 532V533M1159.5 532V533M1160.5 532V533M1161.5 532V533M1162.5 532V533M1163.5 532V533M1164.5 532V533M1165.5 532V533M1166.5 532V533M1167.5 532V533M1168.5 532V533M1169.5 532V533M1170.5 532V533M1171.5 532V533M1172.5 532V533M1173.5 532V533M1174.5 532V533M1175.5 532V533M1176.5 532V533M1177.5 532V533M1178.5 532V533M1179.5 532V533M1180.5 532V533M1181.5 532V533M1182.5 532V533M1183.5 532V533M1184.5 532V533M1185.5 532V533M1186.5 532V533M1187.5 532V533M1188.5 532V533M1189.5 532V533M1190.5 532V533M1191.5 532V533M1192.5 532V533M1193.5 532V533M1194.5 532V533M1195.5 532V533M1196.5 532V533M1197.5 532V533M1198.5 532V533M1199.5 532V533M1200.5 532V533M1201.5 532V533M1202.5 532V533M1203.5 532V533M1204.5 532V533M1205.5 532V533M1206.5 532V533M1207.5 532V533M1208.5 532V533M1209.5 532V533M1210.5 532V533M1211.5 532V533M1212.5 532V533M1213.5 532V533M1214.5 532V533M1215.5 532V533M1216.5 532V533M1217.5 532V533M1218.5 532V533M1219.5 532V533M1220.5 533V535M1221.5 532V534M1222.5 532V533M1223.5 532V533M1224.5 532V533M1225.5 532V533M1226.5 532V533M1227.5 532V533M1228.5 532V533M1229.5 532V533M1230.5 532V533M1231.5 532V533M1232.5 532V533M1233.5 532V533M1234.5 532V533M1235.5 532V533M1236.5 532V533M1237.5 532V533M1238.5 532V533M1239.5 532V533M1240.5 532V533M1241.5 532V533M1242.5 532V533M1243.5 532V533M1244.5 532V533M1245.5 532V533M1246.5 532V533M1247.5 532V533M1248.5 532V533M1249.5 532V533M1250.5 532V533M1251.5 532V533M1252.5 532V533M1253.5 532V533M1254.5 532V533M1255.5 533V535M1256.5 532V534M1257.5 532V533M1258.5 532V533M1259.5 532V533M1260.5 532V533M1261.5 532V533M1262.5 532V533M1263.5 532V533M1264.5 532V533M1265.5 532V533M1266.5 532V533M1267.5 532V533M1268.5 532V533M1269.5 532V533M1270.5 532V533M1271.5 532V533M1272.5 532V533M1273.5 532V533M1274.5 532V533M1275.5 532V533M1276.5 532V533M1277.5 532V533M1278.5 532V533M1279.5 532V533M1280.5 532V533M1281.5 532V533M1282.5 532V533M1283.5 532V533M1284.5 532V533M1285.5 532V533M1286.5 532V533M1287.5 532V533M1288.5 532V533M1289.5 532V533M1290.5 532V533M1291.5 532V533M1292.5 532V533M1293.5 532V533M1294.5 532V533M1295.5 532V533M1296.5 532V533M1297.5 532V533M1298.5 532V533M1299.5 532V533M1300.5 532V533M1301.5 532V533M1302.5 532V533M1303.5 533V534M1304.5 532V533M1305.5 532V533M1306.5 532V533M1307.5 532V533M1308.5 532V533M1309.5 532V533M1310.5 532V533M1311.5 532V533M1312.5 532V533M1313.5 532V533M1314.5 532V533M1315.5 532V533M1316.5 532V533M1317.5 532V533M1318.5 532V533M1319.5 532V533M1320.5 532V533M1321.5 532V533M1322.5 532V533M1323.5 532V533M1324.5 532V533M1325.5 532V533M1326.5 532V533M1327.5 532V533M1328.5 532V533M1329.5 532V533M1330.5 532V533M1331.5 532V533M1332.5 532V533M1333.5 532V533M1334.5 532V533M1335.5 532V533M1336.5 532V533M1337.5 532V533M1338.5 532V533M1339.5 532V533M1340.5 532V533M1341.5 532V533M1342.5 532V533M1343.5 532V533M1344.5 532V533M1345.5 532V533M1346.5 532V533M1347.5 532V533M1348.5 532V535M1349.5 532V533M1350.5 532V533M1351.5 532V533M1352.5 532V533M1353.5 532V533M1354.5 532V533M1355.5 532V533M1356.5 532V533M1357.5 532V533M1358.5 532V533M1359.5 532V533M1360.5 532V533M1361.5 532V533M1362.5 532V533M1363.5 532V533M1364.5 532V533M1365.5 532V533M1366.5 532V533" fill="none" stroke="#ff0000" stroke-width="1" shape-rendering="crispEdges"/>
</g>
<rect x="1288" y="72" width="57" height="1" fill="#ff0000" shape-rendering="crispEdges"/>
<path d="M108.5 513V520M109.5 520V529M110.5 529V532M111.5 527V530M112.5 521V528M113.5 524V529M114.5 529V532M115.5 531V532M116.5 530V532M117.5 527V530M118.5 526V527M119.5 525V528M120.5 524V525M121.5 525V527M122.5 526V529M123.5 529V532M124.5 531V532M125.5 531V532M126.5 530V532M127.5 527V530M128.5 529V532M129.5 527V530M130.5 529V532M131.5 527V530M132.5 529V532M133.5 531V532M134.5 530V532M135.5 527V530M136.5 529V532M137.5 531V532M138.5 531V532M139.5 531V532M140.5 531V532M141.5 499V532M142.5 515V532M143.5 528V532M144.5 523V528M145.5 525V529M146.5 529V532M147.5 526V532M148.5 519V532M149.5 530V532M150.5 524V530M151.5 519V524M152.5 523V528M206.5 519V523M207.5 523V527M208.5 527V528M209.5 527V529M210.5 523V532M211.5 513V523M212.5 522V532M213.5 526V530M214.5 529V532M215.5 527V530M216.5 526V528M217.5 523V526M218.5 525V528M219.5 527V529M220.5 526V532M221.5 527V528M222.5 527V529M223.5 529V532M224.5 527V530M225.5 529V532M226.5 529V532M227.5 526V529M228.5 529V532M229.5 527V530M230.5 529V532M231.5 526V529M232.5 527V528M233.5 526V527M234.5 526V529M235.5 529V532M236.5 529V532M237.5 526V529M238.5 526V527M239.5 526V527M240.5 525V528M241.5 522V527M242.5 524V532M243.5 519V525M244.5 525V532M245.5 527V530M246.5 526V529M247.5 529V532M248.5 525V529M249.5 526V532M250.5 527V528M251.5 526V527M252.5 527V529M253.5 529V532M254.5 527V530M255.5 526V529M256.5 529V532M257.5 527V530M258.5 526V527M259.5 527V529M260.5 529V532M261.5 527V530M262.5 527V529M263.5 529V532M264.5 531V532M265.5 531V532M266.5 530V532M267.5 527V530M268.5 527V528M269.5 527V529M270.5 529V532M271.5 524V532M272.5 526V528M273.5 527V529M274.5 529V532M275.5 531V532M276.5 531V532M277.5 530V532M278.5 527V532M279.5 531V532M280.5 530V532M281.5 527V530M282.5 527V528M283.5 527V528M284.5 525V527M285.5 519V526M286.5 525V532M287.5 531V532M288.5 531V532M289.5 531V532M290.5 531V532M291.5 528V532M292.5 524V528M293.5 526V532M294.5 529V532M295.5 529V532M296.5 526V529M297.5 526V527M298.5 527V528M299.5 527V529M300.5 526V532M301.5 529V532M302.5 527V530M303.5 525V528M304.5 528V532M305.5 526V529M306.5 518V532M307.5 504V532M308.5 526V529M309.5 529V532M310.5 526V529M311.5 527V529M312.5 529V532M313.5 530V532M314.5 527V532M315.5 531V532M316.5 530V532M317.5 525V530M318.5 521V525M319.5 524V528M320.5 523V527M321.5 519V532M322.5 525V529M323.5 528V532M324.5 525V532M325.5 517V525M326.5 522V529M327.5 529V532M328.5 527V530M329.5 527V529M330.5 529V532M331.5 531V532M332.5 530V532M333.5 527V530M334.5 527V529M335.5 529V532M336.5 527V532M337.5 527V528M338.5 525V527M339.5 526V528M340.5 526V527M341.5 526V527M342.5 523V528M343.5 518V532M344.5 529V532M345.5 523V529M346.5 519V523M347.5 523V528M348.5 526V527M349.5 526V529M350.5 527V532M351.5 527V529M352.5 529V532M353.5 527V530M354.5 525V527M355.5 526V527M356.5 527V528M357.5 527V529M358.5 529V532M359.5 526V529M360.5 529V532M361.5 530V532M362.5 527V530M363.5 527V528M364.5 526V529M365.5 526V532M366.5 527V528M367.5 526V527M368.5 527V528M369.5 526V527M370.5 526V529M371.5 529V532M372.5 520V529M373.5 526V532M374.5 529V532M375.5 526V529M376.5 527V529M377.5 529V532M378.5 525V529M379.5 528V532M380.5 526V529M381.5 526V529M382.5 529V532M383.5 526V529M384.5 529V532M385.5 525V529M386.5 526V528M387.5 527V532M388.5 526V529M389.5 529V532M390.5 531V532M391.5 529V532M392.5 525V529M393.5 523V525M394.5 525V528M395.5 526V527M396.5 524V526M397.5 525V529M398.5 529V532M399.5 526V529M400.5 527V528M401.5 526V532M402.5 527V530M403.5 529V532M404.5 531V532M405.5 530V532M406.5 526V530M407.5 523V526M408.5 525V532M409.5 525V530M410.5 522V525M411.5 524V528M412.5 528V532M413.5 523V530M414.5 518V523M415.5 522V527M416.5 525V527M417.5 527V528M418.5 527V528M419.5 526V529M420.5 529V532M421.5 527V530M422.5 529V532M423.5 525V532M424.5 528V532M425.5 530V532M426.5 527V530M427.5 526V528M428.5 523V526M429.5 523V527M430.5 526V532M431.5 517V527M432.5 506V517M433.5 517V528M434.5 525V527M435.5 522V527M436.5 527V532M437.5 524V532M438.5 524V528M439.5 528V532M440.5 526V529M441.5 527V528M442.5 527V528M443.5 527V528M444.5 527V532M445.5 523V532M446.5 513V523M447.5 522V532M448.5 530V532M449.5 527V530M450.5 529V532M451.5 529V532M452.5 526V529M453.5 527V529M454.5 529V532M455.5 531V532M456.5 530V532M457.5 527V530M458.5 525V527M459.5 526V532M460.5 531V532M461.5 528V532M462.5 524V528M463.5 526V528M464.5 527V529M465.5 529V532M466.5 526V532M467.5 529V532M468.5 531V532M469.5 527V532M470.5 521V527M471.5 524V527M472.5 522V525M473.5 525V528M474.5 524V528M475.5 519V525M476.5 525V532M477.5 529V532M478.5 526V529M479.5 525V526M480.5 526V528M481.5 525V532M482.5 531V532M483.5 530V532M484.5 527V530M485.5 529V532M486.5 529V532M487.5 526V529M488.5 527V528M489.5 526V529M490.5 529V532M491.5 530V532M492.5 526V530M493.5 514V526M494.5 504V518M495.5 518V532M496.5 527V530M497.5 529V532M498.5 526V529M499.5 527V528M500.5 527V528M501.5 526V527M502.5 527V528M503.5 525V528M504.5 521V526M505.5 525V532M506.5 518V525M507.5 523V528M508.5 526V527M509.5 524V528M510.5 528V532M511.5 530V532M512.5 527V530M513.5 529V532M514.5 531V532M515.5 519V532M516.5 506V519M517.5 519V532M518.5 529V532M519.5 530V532M520.5 527V530M521.5 527V528M522.5 527V528M523.5 527V528M524.5 527V529M525.5 529V532M526.5 531V532M527.5 531V532M528.5 531V532M529.5 530V532M530.5 527V530M531.5 526V532M532.5 524V526M533.5 526V529M534.5 529V532M535.5 527V530M536.5 529V532M537.5 531V532M538.5 531V532M539.5 530V532M540.5 521V530M541.5 514V521M542.5 520V527M543.5 527V529M544.5 529V532M545.5 530V532M546.5 527V530M547.5 529V532M548.5 529V532M549.5 525V529M550.5 523V527M551.5 527V532M552.5 528V532M553.5 523V532M554.5 526V529M555.5 529V532M556.5 526V529M557.5 526V527M558.5 527V528M559.5 527V528M560.5 523V528M561.5 525V529M562.5 529V532M563.5 531V532M564.5 530V532M565.5 527V530M566.5 527V528M567.5 524V528M568.5 526V529M569.5 529V532M570.5 527V530M571.5 529V532M572.5 531V532M573.5 530V532M574.5 527V532M575.5 529V532M576.5 526V529M577.5 529V532M578.5 530V532M579.5 523V530M580.5 518V523M581.5 522V529M582.5 527V532M583.5 526V527M584.5 524V528M585.5 528V532M586.5 527V530M587.5 529V532M588.5 531V532M589.5 530V532M590.5 527V530M591.5 529V532M592.5 530V532M593.5 527V530M594.5 528V532M595.5 524V528M596.5 526V532M597.5 530V532M598.5 527V530M599.5 529V532M600.5 526V530M601.5 523V526M602.5 524V526M603.5 525V529M604.5 529V532M605.5 526V529M606.5 529V532M607.5 531V532M608.5 531V532M609.5 528V532M610.5 524V528M611.5 526V532M612.5 531V532M613.5 531V532M614.5 531V532M615.5 531V532M616.5 530V532M617.5 527V530M618.5 529V532M619.5 526V529M620.5 525V526M621.5 526V528M622.5 527V528M623.5 525V527M624.5 526V529M625.5 525V532M626.5 518V525M627.5 525V532M628.5 527V530M629.5 528V532M630.5 524V528M631.5 526V528M632.5 527V529M633.5 523V532M634.5 514V523M635.5 519V526M636.5 526V528M637.5 527V529M638.5 529V532M639.5 527V530M640.5 527V532M641.5 531V532M642.5 530V532M643.5 527V530M644.5 529V532M645.5 529V532M646.5 526V529M647.5 524V532M648.5 516V524M649.5 522V529M650.5 529V532M651.5 526V529M652.5 526V529M653.5 529V532M654.5 527V532M655.5 529V532M656.5 531V532M657.5 531V532M658.5 531V532M659.5 529V532M660.5 526V529M661.5 527V532M662.5 526V529M663.5 529V532M664.5 530V532M665.5 527V530M666.5 529V532M667.5 531V532M668.5 527V532M669.5 527V529M670.5 529V532M671.5 527V530M672.5 529V532M673.5 527V530M674.5 529V532M675.5 526V529M676.5 526V532M677.5 529V532M678.5 527V530M679.5 527V528M680.5 527V529M681.5 529V532M682.5 527V530M683.5 526V532M684.5 529V532M685.5 530V532M686.5 527V530M687.5 526V528M688.5 523V527M689.5 527V532M690.5 527V532M691.5 527V530M692.5 507V527M693.5 487V507M694.5 507V529M695.5 529V532M696.5 529V532M697.5 526V532M698.5 531V532M699.5 531V532M700.5 530V532M701.5 527V530M702.5 527V528M703.5 525V528M704.5 522V525M705.5 524V532M706.5 530V532M707.5 527V530M708.5 526V528M709.5 524V526M710.5 526V528M711.5 525V527M712.5 526V532M713.5 527V530M714.5 529V532M715.5 529V532M716.5 525V529M717.5 523V527M718.5 527V532M719.5 527V532M720.5 529V532M721.5 526V529M722.5 521V528M723.5 513V521M724.5 520V528M725.5 527V529M726.5 526V532M727.5 527V529M728.5 524V532M729.5 515V524M730.5 523V532M731.5 521V527M732.5 526V532M733.5 531V532M734.5 530V532M735.5 527V530M736.5 529V532M737.5 525V529M738.5 528V532M739.5 524V528M740.5 526V529M741.5 529V532M742.5 526V529M743.5 527V529M744.5 529V532M745.5 526V529M746.5 529V532M747.5 530V532M748.5 527V530M749.5 523V527M750.5 518V523M751.5 523V529M752.5 512V532M753.5 492V512M754.5 512V532M755.5 523V532M756.5 525V528M757.5 524V526M758.5 526V528M759.5 526V529M760.5 529V532M761.5 526V529M762.5 527V529M763.5 529V532M764.5 531V532M765.5 482V532M766.5 433V532M767.5 529V532M768.5 526V529M769.5 526V527M770.5 527V532M771.5 524V532M772.5 516V524M773.5 522V528M774.5 527V529M775.5 529V532M776.5 527V532M777.5 521V527M778.5 524V528M779.5 527V529M780.5 529V532M781.5 527V530M782.5 510V528M783.5 491V511M784.5 511V532M785.5 526V529M786.5 529V532M787.5 526V529M788.5 526V527M789.5 524V527M790.5 520V526M791.5 526V532M792.5 523V528M793.5 525V528M794.5 527V528M795.5 527V529M796.5 529V532M797.5 529V532M798.5 526V529M799.5 527V532M800.5 527V528M801.5 527V529M802.5 529V532M803.5 531V532M804.5 531V532M805.5 531V532M806.5 531V532M807.5 529V532M808.5 518V529M809.5 509V520M810.5 520V532M811.5 531V532M812.5 530V532M813.5 527V532M814.5 531V532M815.5 531V532M816.5 531V532M817.5 531V532M818.5 530V532M819.5 527V530M820.5 529V532M821.5 530V532M822.5 527V530M823.5 529V532M824.5 529V532M825.5 525V529M826.5 528V532M827.5 526V532M828.5 516V530M829.5 504V516M830.5 515V527M831.5 527V528M832.5 527V529M833.5 529V532M834.5 527V530M835.5 526V532M836.5 529V532M837.5 526V529M838.5 527V528M839.5 526V527M840.5 527V528M841.5 527V529M842.5 525V532M843.5 528V532M844.5 530V532M845.5 527V530M846.5 527V529M847.5 529V532M848.5 527V530M849.5 527V528M850.5 527V528M851.5 527V529M852.5 529V532M853.5 527V530M854.5 527V529M855.5 529V532M856.5 531V532M857.5 529V532M858.5 526V529M859.5 528V532M860.5 524V528M861.5 528V532M862.5 529V532M863.5 526V529M864.5 527V532M865.5 529V532M866.5 531V532M867.5 529V532M868.5 525V529M869.5 528V532M870.5 527V530M871.5 504V527M872.5 518V532M873.5 527V530M874.5 527V528M875.5 527V528M876.5 527V528M877.5 525V527M878.5 526V532M879.5 530V532M880.5 527V530M881.5 527V529M882.5 529V532M883.5 525V529M884.5 526V532M885.5 520V532M886.5 529V532M887.5 526V529M888.5 529V532M889.5 527V530M890.5 527V529M891.5 529V532M892.5 531V532M893.5 530V532M894.5 527V530M895.5 529V532M896.5 527V530M897.5 527V529M898.5 529V532M899.5 530V532M900.5 527V530M901.5 527V529M902.5 529V532M903.5 529V532M904.5 526V529M905.5 527V528M906.5 461V532M907.5 461V462M907.5 527V528M908.5 461V532M909.5 529V532M910.5 531V532M911.5 531V532M912.5 531V532M913.5 530V532M914.5 527V532M915.5 527V530M916.5 529V532M917.5 530V532M918.5 527V530M919.5 523V528M920.5 518V523M921.5 522V529M922.5 529V532M923.5 530V532M924.5 527V530M925.5 526V527M926.5 527V528M927.5 513V532M928.5 513V514M928.5 529V532M929.5 513V514M929.5 526V532M930.5 513V532M931.5 529V532M932.5 526V529M933.5 529V532M934.5 527V530M935.5 526V529M936.5 528V532M937.5 523V528M938.5 527V532M939.5 531V532M940.5 531V532M941.5 527V532M942.5 522V527M943.5 525V528M944.5 527V528M945.5 525V528M946.5 527V532M947.5 522V527M948.5 527V532M949.5 527V530M950.5 527V529M951.5 528V532M952.5 524V528M953.5 526V529M954.5 529V532M955.5 526V529M956.5 529V532M957.5 525V532M958.5 518V529M959.5 519V532M960.5 506V519M961.5 517V528M962.5 523V526M963.5 525V529M964.5 529V532M965.5 527V532M966.5 529V532M967.5 531V532M968.5 531V532M969.5 529V532M970.5 525V529M971.5 528V532M972.5 529V532M973.5 526V529M974.5 529V532M975.5 527V530M976.5 525V528M977.5 522V527M978.5 527V532M979.5 514V530M980.5 499V514M981.5 513V528M982.5 525V527M983.5 526V529M984.5 529V532M985.5 530V532M986.5 527V530M987.5 526V532M988.5 528V532M989.5 524V528M990.5 525V527M991.5 527V528M992.5 527V529M993.5 529V532M994.5 529V532M995.5 526V529M996.5 526V529M997.5 529V532M998.5 525V532M999.5 518V525M1000.5 523V529M1001.5 529V532M1002.5 528V532M1003.5 524V528M1004.5 528V532M1005.5 531V532M1006.5 530V532M1007.5 527V530M1008.5 529V532M1009.5 530V532M1010.5 526V530M1011.5 523V526M1012.5 525V527M1013.5 527V528M1014.5 527V529M1015.5 529V532M1016.5 529V532M1017.5 526V529M1018.5 527V528M1019.5 527V529M1020.5 529V532M1021.5 531V532M1022.5 531V532M1023.5 527V532M1024.5 529V532M1025.5 527V530M1026.5 529V532M1027.5 531V532M1028.5 530V532M1029.5 527V530M1030.5 520V527M1031.5 526V532M1032.5 531V532M1033.5 529V532M1034.5 526V529M1035.5 529V532M1036.5 531V532M1037.5 527V532M1038.5 525V527M1039.5 526V529M1040.5 529V532M1041.5 527V530M1042.5 527V532M1043.5 521V527M1044.5 526V532M1045.5 530V532M1046.5 527V530M1047.5 526V529M1048.5 529V532M1049.5 529V532M1050.5 526V529M1051.5 527V528M1052.5 526V529M1053.5 529V532M1054.5 531V532M1055.5 529V532M1056.5 523V529M1057.5 518V525M1058.5 525V532M1059.5 527V532M1060.5 527V528M1061.5 527V528M1062.5 525V528M1063.5 522V527M1064.5 527V532M1065.5 531V532M1066.5 528V532M1067.5 523V528M1068.5 525V529M1069.5 529V532M1070.5 530V532M1071.5 527V530M1072.5 527V528M1073.5 526V528M1074.5 526V528M1075.5 518V526M1076.5 511V521M1077.5 521V532M1078.5 526V529M1079.5 529V532M1080.5 525V530M1081.5 528V532M1082.5 531V532M1083.5 531V532M1084.5 530V532M1085.5 527V530M1086.5 529V532M1087.5 531V532M1088.5 529V532M1089.5 526V529M1090.5 529V532M1091.5 531V532M1092.5 529V532M1093.5 525V529M1094.5 528V532M1095.5 530V532M1096.5 526V530M1097.5 523V527M1098.5 527V532M1099.5 529V532M1100.5 526V529M1101.5 524V528M1102.5 528V532M1103.5 527V530M1104.5 529V532M1105.5 526V529M1106.5 529V532M1107.5 525V529M1108.5 528V532M1109.5 527V532M1110.5 526V529M1111.5 529V532M1112.5 527V530M1113.5 529V532M1114.5 531V532M1115.5 530V532M1116.5 527V530M1117.5 525V532M1118.5 502V532M1119.5 476V532M1120.5 527V529M1121.5 529V532M1122.5 529V532M1123.5 525V529M1124.5 526V532M1125.5 531V532M1126.5 529V532M1127.5 526V529M1128.5 527V528M1129.5 525V527M1130.5 525V528M1131.5 521V527M1132.5 519V525M1133.5 525V532M1134.5 531V532M1135.5 531V532M1136.5 531V532M1137.5 529V532M1138.5 525V529M1139.5 527V528M1140.5 527V529M1141.5 529V532M1142.5 498V532M1143.5 463V498M1144.5 495V528M1145.5 522V527M1146.5 527V532M1147.5 529V532M1148.5 528V532M1149.5 523V528M1150.5 525V527M1151.5 527V528M1152.5 526V529M1153.5 518V532M1154.5 523V529M1155.5 529V532M1156.5 525V529M1157.5 528V532M1158.5 506V528M1159.5 487V509M1160.5 503V532M1161.5 473V503M1162.5 500V528M1163.5 527V529M1164.5 527V532M1165.5 521V527M1166.5 524V528M1167.5 525V532M1168.5 517V525M1169.5 502V532M1170.5 471V502M1171.5 501V532M1172.5 531V532M1173.5 530V532M1174.5 486V530M1175.5 507V528M1176.5 527V529M1177.5 529V532M1178.5 527V530M1179.5 529V532M1180.5 529V532M1181.5 526V529M1182.5 527V532M1183.5 527V532M1184.5 522V527M1185.5 525V528M1186.5 527V529M1187.5 529V532M1188.5 531V532M1189.5 527V532M1190.5 522V527M1191.5 527V532M1192.5 524V528M1193.5 525V527M1194.5 525V526M1195.5 526V529M1196.5 529V532M1197.5 531V532M1198.5 531V532M1199.5 531V532M1200.5 529V532M1201.5 526V529M1202.5 527V529M1203.5 529V532M1204.5 530V532M1205.5 527V530M1206.5 529V532M1207.5 531V532M1208.5 530V532M1209.5 527V530M1210.5 527V529M1211.5 529V532M1212.5 526V529M1213.5 529V532M1214.5 513V532M1215.5 494V513M1216.5 513V532M1217.5 529V532M1218.5 526V529M1219.5 529V532M1220.5 525V529M1221.5 523V527M1222.5 527V532M1223.5 531V532M1224.5 531V532M1225.5 511V532M1226.5 506V528M1227.5 483V506M1228.5 505V528M1229.5 524V526M1230.5 525V527M1231.5 527V529M1232.5 527V532M1233.5 529V532M1234.5 531V532M1235.5 530V532M1236.5 527V530M1237.5 526V529M1238.5 529V532M1239.5 527V530M1240.5 529V532M1241.5 527V530M1242.5 525V527M1243.5 526V528M1244.5 526V529M1245.5 529V532M1246.5 526V529M1247.5 522V528M1248.5 523V525M1249.5 525V529M1250.5 529V532M1251.5 526V529M1252.5 529V532M1253.5 531V532M1254.5 527V532M1255.5 527V528M1256.5 527V528M1257.5 526V529M1258.5 529V532M1259.5 524V529M1260.5 520V524M1261.5 524V528M1262.5 526V529M1263.5 529V532M1264.5 531V532M1265.5 528V532M1266.5 524V528M1267.5 528V532M1268.5 527V532M1269.5 529V532M1270.5 527V530M1271.5 529V532M1272.5 527V530M1273.5 527V528M1274.5 526V527M1275.5 526V529M1276.5 526V532M1277.5 529V532M1278.5 526V529M1279.5 526V529M1280.5 529V532M1281.5 527V530M1282.5 526V527M1283.5 525V532M1284.5 531V532M1285.5 530V532M1286.5 527V530M1287.5 525V527M1288.5 526V529M1289.5 529V532M1290.5 525V532M1291.5 522V527M1292.5 527V532M1293.5 529V532M1294.5 526V529M1295.5 529V532M1296.5 531V532M1297.5 527V532M1298.5 529V532M1299.5 531V532M1300.5 530V532M1301.5 527V530M1302.5 529V532M1303.5 530V532M1304.5 527V530M1305.5 527V529M1306.5 529V532M1307.5 531V532M1308.5 525V532M1309.5 518V525M1310.5 525V532M1311.5 527V530M1312.5 527V532M1313.5 527V530M1314.5 526V529M1315.5 529V532M1316.5 531V532M1317.5 531V532M1318.5 530V532M1319.5 526V530M1320.5 527V532M1321.5 522V527M1322.5 527V532M1323.5 526V530M1324.5 523V527M1325.5 518V532M1326.5 504V525M1327.5 522V527M1328.5 527V532M1329.5 531V532M1330.5 531V532M1331.5 531V532M1332.5 531V532M1333.5 527V532M1334.5 526V527M1335.5 527V529M1336.5 528V532M1337.5 523V528M1338.5 527V532M1339.5 525V529M1340.5 525V528M1341.5 525V532M1342.5 524V528M1343.5 528V532M1344.5 528V532M1345.5 524V528M1346.5 528V532M1347.5 530V532M1348.5 527V532M1349.5 525V529M1350.5 528V532M1351.5 498V530M1352.5 467V498M1353.5 497V527M1354.5 526V529M1355.5 527V532M1356.5 516V527M1357.5 504V518M1358.5 518V532M1359.5 531V532M1360.5 529V532M1361.5 524V529M1362.5 511V524M1363.5 521V532M1364.5 525V530M1365.5 522V525M1366.5 525V528" fill="none" stroke="#00c000" stroke-width="1" shape-rendering="crispEdges"/>
<rect x="207" y="531" width="1159" height="1" fill="#00c000" shape-rendering="crispEdges"/>
<rect x="108" y="531" width="100" height="1" fill="#00c000" shape-rendering="crispEdges"/>
<rect x="207" y="516" width="1" height="16" fill="#00c000" shape-rendering="crispEdges"/>
<path d="M155.5 530.5L207.5 516.5" fill="none" stroke="#00c000" stroke-width="1" shape-rendering="crispEdges"/>
<rect x="1288" y="91" width="57" height="1" fill="#00c000" shape-rendering="crispEdges"/>
<path d="M108.5 521V523M109.5 523V525M110.5 525V526M111.5 524V526M112.5 521V524M113.5 519V522M114.5 522V525M115.5 524V525M116.5 524V525M117.5 523V524M118.5 524V526M119.5 525V526M120.5 524V525M121.5 524V526M122.5 521V524M123.5 519V522M124.5 522V525M125.5 522V524M126.5 524V526M127.5 525V526M128.5 524V525M129.5 524V526M130.5 526V528M131.5 526V529M132.5 523V526M133.5 521V523M134.5 523V526M135.5 525V526M136.5 525V526M137.5 525V526M138.5 525V526M139.5 523V525M140.5 524V525M141.5 525V526M142.5 523V525M143.5 524V525M144.5 524V525M145.5 522V524M146.5 523V524M147.5 523V524M148.5 524V526M149.5 525V526M150.5 525V526M151.5 523V525M152.5 524V525M206.5 527V528M207.5 525V527M208.5 524V525M209.5 525V526M210.5 525V527M211.5 527V529M212.5 524V527M213.5 512V526M214.5 518V525M215.5 525V527M216.5 527V529M217.5 525V527M218.5 525V526M219.5 525V526M220.5 522V526M221.5 520V522M222.5 518V522M223.5 522V526M224.5 522V524M225.5 523V526M226.5 526V529M227.5 524V527M228.5 525V529M229.5 525V527M230.5 525V526M231.5 524V525M232.5 525V526M233.5 525V526M234.5 523V525M235.5 524V526M236.5 524V525M237.5 525V526M238.5 525V527M239.5 527V529M240.5 525V527M241.5 525V526M242.5 524V526M243.5 525V526M244.5 524V525M245.5 522V524M246.5 522V523M247.5 523V525M248.5 525V526M249.5 523V526M250.5 525V526M251.5 525V526M252.5 525V526M253.5 525V526M254.5 521V525M255.5 517V521M256.5 519V524M257.5 523V525M258.5 520V523M259.5 523V526M260.5 525V526M261.5 525V526M262.5 525V526M263.5 524V525M264.5 525V529M265.5 523V526M266.5 524V526M267.5 524V525M268.5 525V526M269.5 524V526M270.5 522V524M271.5 524V526M272.5 525V526M273.5 525V526M274.5 523V525M275.5 524V526M276.5 521V524M277.5 518V522M278.5 522V526M279.5 523V524M280.5 524V526M281.5 525V526M282.5 523V525M283.5 525V528M284.5 525V527M285.5 525V526M286.5 523V525M287.5 524V525M288.5 525V526M289.5 525V526M290.5 525V526M291.5 525V526M292.5 525V526M293.5 523V525M294.5 524V526M295.5 525V526M296.5 523V525M297.5 524V525M298.5 525V526M299.5 525V526M300.5 525V526M301.5 525V526M302.5 524V525M303.5 524V526M304.5 526V528M305.5 525V527M306.5 525V526M307.5 521V526M308.5 522V524M309.5 524V526M310.5 524V525M311.5 525V526M312.5 525V526M313.5 525V526M314.5 524V526M315.5 525V526M316.5 524V526M317.5 522V524M318.5 521V523M319.5 523V526M320.5 524V525M321.5 523V525M322.5 524V525M323.5 522V524M324.5 523V525M325.5 522V525M326.5 525V528M327.5 525V527M328.5 525V527M329.5 524V530M330.5 522V524M331.5 519V522M332.5 516V519M333.5 514V520M334.5 520V526M335.5 525V526M336.5 524V526M337.5 525V526M338.5 525V526M339.5 524V525M340.5 522V524M341.5 521V523M342.5 519V521M343.5 517V524M344.5 521V523M345.5 523V525M346.5 525V526M347.5 524V525M348.5 522V524M349.5 524V526M350.5 524V526M351.5 522V524M352.5 524V526M353.5 525V526M354.5 525V526M355.5 523V525M356.5 524V526M357.5 525V526M358.5 525V526M359.5 523V525M360.5 520V523M361.5 523V526M362.5 525V526M363.5 524V525M364.5 524V525M365.5 519V526M366.5 511V519M367.5 518V526M368.5 525V526M369.5 524V526M370.5 522V524M371.5 523V525M372.5 524V526M373.5 523V526M374.5 520V523M375.5 523V526M376.5 525V526M377.5 524V525M378.5 525V526M379.5 525V526M380.5 524V525M381.5 522V524M382.5 523V524M383.5 524V525M384.5 525V526M385.5 525V526M386.5 525V526M387.5 524V525M388.5 524V525M389.5 523V525M390.5 525V528M391.5 522V525M392.5 524V526M393.5 523V525M394.5 521V525M395.5 525V526M396.5 525V526M397.5 524V525M398.5 523V526M399.5 519V523M400.5 522V526M401.5 518V526M402.5 521V524M403.5 523V524M404.5 523V524M405.5 524V526M406.5 525V526M407.5 524V526M408.5 521V528M409.5 525V527M410.5 523V525M411.5 524V526M412.5 525V526M413.5 523V525M414.5 523V524M415.5 524V526M416.5 524V525M417.5 524V525M418.5 518V525M419.5 511V518M420.5 518V526M421.5 525V526M422.5 525V526M423.5 523V525M424.5 524V525M425.5 523V524M426.5 524V526M427.5 523V525M428.5 524V526M429.5 524V525M430.5 524V526M431.5 524V525M432.5 524V526M433.5 521V524M434.5 522V524M435.5 524V526M436.5 526V529M437.5 524V527M438.5 525V526M439.5 525V526M440.5 525V526M441.5 524V525M442.5 523V525M443.5 525V528M444.5 525V527M445.5 525V526M446.5 524V525M447.5 525V526M448.5 523V526M449.5 526V529M450.5 523V526M451.5 522V526M452.5 523V530M453.5 524V526M454.5 524V525M455.5 525V526M456.5 525V526M457.5 524V525M458.5 525V526M459.5 523V526M460.5 519V523M461.5 522V526M462.5 524V526M463.5 522V524M464.5 523V525M465.5 524V525M466.5 524V526M467.5 525V526M468.5 525V526M469.5 525V526M470.5 526V528M471.5 525V527M472.5 525V526M473.5 521V526M474.5 517V521M475.5 514V517M476.5 512V519M477.5 519V526M478.5 525V526M479.5 525V526M480.5 524V525M481.5 525V526M482.5 523V525M483.5 524V526M484.5 524V525M485.5 525V526M486.5 525V526M487.5 523V525M488.5 524V526M489.5 525V526M490.5 524V525M491.5 525V526M492.5 525V526M493.5 523V525M494.5 520V523M495.5 514V520M496.5 519V525M497.5 525V526M498.5 525V526M499.5 525V526M500.5 524V525M501.5 525V526M502.5 521V526M503.5 523V525M504.5 525V526M505.5 525V526M506.5 525V526M507.5 525V526M508.5 524V525M509.5 520V525M510.5 516V520M511.5 514V519M512.5 519V525M513.5 525V526M514.5 524V525M515.5 525V526M516.5 525V526M517.5 523V525M518.5 520V523M519.5 523V526M520.5 525V526M521.5 524V525M522.5 523V524M523.5 524V526M524.5 521V525M525.5 522V524M526.5 523V524M527.5 524V526M528.5 525V526M529.5 525V526M530.5 521V525M531.5 516V525M532.5 525V526M533.5 522V526M534.5 518V522M535.5 521V525M536.5 523V526M537.5 519V523M538.5 522V526M539.5 524V525M540.5 525V526M541.5 523V525M542.5 524V526M543.5 524V525M544.5 522V524M545.5 520V522M546.5 515V520M547.5 520V526M548.5 525V526M549.5 524V526M550.5 521V524M551.5 523V525M552.5 524V525M553.5 525V526M554.5 524V526M555.5 522V524M556.5 523V525M557.5 524V525M558.5 524V525M559.5 525V526M560.5 523V526M561.5 525V526M562.5 523V525M563.5 524V526M564.5 525V526M565.5 524V526M566.5 521V524M567.5 516V521M568.5 514V519M569.5 519V525M570.5 523V524M571.5 521V523M572.5 520V521M573.5 519V524M574.5 521V529M575.5 522V524M576.5 524V526M577.5 499V526M578.5 445V499M579.5 418V471M580.5 471V525M581.5 518V522M582.5 522V526M583.5 524V525M584.5 520V525M585.5 514V520M586.5 519V526M587.5 526V528M588.5 525V527M589.5 523V525M590.5 523V524M591.5 524V526M592.5 523V526M593.5 520V523M594.5 522V525M595.5 523V524M596.5 524V526M597.5 524V525M598.5 522V524M599.5 521V523M600.5 523V525M601.5 521V524M602.5 518V521M603.5 514V519M604.5 519V526M605.5 526V529M606.5 527V529M607.5 525V527M608.5 524V526M609.5 521V524M610.5 523V525M611.5 524V526M612.5 520V525M613.5 515V520M614.5 520V526M615.5 525V526M616.5 525V526M617.5 525V526M618.5 524V526M619.5 523V525M620.5 521V523M621.5 523V526M622.5 525V526M623.5 524V526M624.5 521V524M625.5 522V525M626.5 523V524M627.5 524V527M628.5 527V529M629.5 518V527M630.5 510V518M631.5 517V525M632.5 524V526M633.5 525V526M634.5 524V525M635.5 524V525M636.5 525V526M637.5 525V526M638.5 525V526M639.5 525V526M640.5 524V526M641.5 522V524M642.5 524V526M643.5 523V525M644.5 524V526M645.5 525V526M646.5 525V526M647.5 524V526M648.5 525V526M649.5 525V526M650.5 524V526M651.5 522V524M652.5 524V526M653.5 525V526M654.5 522V526M655.5 520V522M656.5 518V520M657.5 516V520M658.5 520V525M659.5 520V523M660.5 521V523M661.5 516V522M662.5 513V516M663.5 511V518M664.5 518V525M665.5 525V526M666.5 524V525M667.5 525V526M668.5 523V525M669.5 520V523M670.5 523V526M671.5 524V525M672.5 525V526M673.5 525V526M674.5 524V526M675.5 522V524M676.5 524V526M677.5 524V525M678.5 524V525M679.5 524V525M680.5 523V524M681.5 524V526M682.5 525V526M683.5 524V526M684.5 524V525M685.5 524V525M686.5 525V526M687.5 522V525M688.5 519V522M689.5 522V525M690.5 525V526M691.5 525V526M692.5 525V526M693.5 525V527M694.5 527V529M695.5 524V527M696.5 525V526M697.5 525V526M698.5 525V526M699.5 525V526M700.5 525V526M701.5 523V525M702.5 521V523M703.5 523V526M704.5 519V523M705.5 521V526M706.5 525V526M707.5 523V525M708.5 524V526M709.5 523V526M710.5 519V523M711.5 522V526M712.5 524V526M713.5 524V526M714.5 526V529M715.5 525V527M716.5 525V526M717.5 525V526M718.5 525V526M719.5 525V526M720.5 525V526M721.5 525V526M722.5 525V526M723.5 524V525M724.5 525V527M725.5 527V529M726.5 525V529M727.5 525V526M728.5 524V525M729.5 524V525M730.5 524V525M731.5 523V524M732.5 524V526M733.5 525V526M734.5 524V526M735.5 523V525M736.5 521V523M737.5 523V525M738.5 525V526M739.5 525V526M740.5 525V526M741.5 525V526M742.5 524V525M743.5 524V525M744.5 522V525M745.5 525V528M746.5 525V527M747.5 524V526M748.5 518V524M749.5 520V523M750.5 523V526M751.5 525V526M752.5 524V525M753.5 525V526M754.5 523V525M755.5 520V523M756.5 518V520M757.5 516V521M758.5 521V526M759.5 525V526M760.5 525V526M761.5 524V525M762.5 521V524M763.5 519V521M764.5 517V520M765.5 520V525M766.5 525V528M767.5 524V526M768.5 525V526M769.5 524V525M770.5 524V526M771.5 524V525M772.5 522V524M773.5 524V526M774.5 523V525M775.5 524V526M776.5 523V525M777.5 524V526M778.5 525V526M779.5 525V526M780.5 525V526M781.5 525V526M782.5 525V526M783.5 523V525M784.5 524V526M785.5 524V525M786.5 524V526M787.5 526V529M788.5 525V527M789.5 523V525M790.5 522V526M791.5 518V526M792.5 524V526M793.5 526V528M794.5 525V527M795.5 524V525M796.5 525V526M797.5 523V525M798.5 524V525M799.5 524V526M800.5 523V526M801.5 526V530M802.5 524V527M803.5 525V526M804.5 525V526M805.5 523V525M806.5 524V526M807.5 526V528M808.5 524V526M809.5 525V526M810.5 525V526M811.5 512V526M812.5 497V512M813.5 511V525M814.5 522V525M815.5 525V526M816.5 525V526M817.5 525V526M818.5 524V525M819.5 525V526M820.5 524V526M821.5 524V526M822.5 522V524M823.5 523V525M824.5 525V526M825.5 525V526M826.5 524V525M827.5 524V526M828.5 525V526M829.5 525V526M830.5 525V526M831.5 524V526M832.5 522V524M833.5 524V527M834.5 527V530M835.5 520V528M836.5 523V526M837.5 525V526M838.5 523V526M839.5 519V523M840.5 522V526M841.5 524V525M842.5 525V526M843.5 525V526M844.5 525V526M845.5 525V526M846.5 525V526M847.5 525V526M848.5 526V528M849.5 523V527M850.5 520V523M851.5 522V525M852.5 525V526M853.5 524V526M854.5 522V524M855.5 524V526M856.5 522V525M857.5 523V525M858.5 525V526M859.5 524V526M860.5 522V524M861.5 521V523M862.5 518V521M863.5 515V518M864.5 512V526M865.5 525V526M866.5 523V525M867.5 520V523M868.5 522V525M869.5 525V526M870.5 525V526M871.5 525V526M872.5 525V526M873.5 523V525M874.5 524V526M875.5 525V526M876.5 523V525M877.5 524V525M878.5 523V525M879.5 524V526M880.5 524V525M881.5 525V526M882.5 525V526M883.5 524V525M884.5 524V526M885.5 519V528M886.5 522V526M887.5 517V522M888.5 521V526M889.5 525V526M890.5 525V526M891.5 524V525M892.5 524V525M893.5 523V525M894.5 525V526M895.5 524V525M896.5 525V526M897.5 524V525M898.5 525V526M899.5 525V526M900.5 525V526M901.5 524V525M902.5 524V525M903.5 525V526M904.5 525V526M905.5 525V526M906.5 525V527M907.5 525V529M908.5 525V526M909.5 525V526M910.5 524V525M911.5 525V526M912.5 522V525M913.5 520V522M914.5 518V526M915.5 525V526M916.5 525V526M917.5 524V525M918.5 524V525M919.5 523V524M920.5 524V526M921.5 525V529M922.5 522V526M923.5 522V523M924.5 523V524M925.5 524V526M926.5 525V526M927.5 525V526M928.5 524V525M929.5 523V526M930.5 525V526M931.5 525V526M932.5 525V526M933.5 525V526M934.5 524V525M935.5 523V524M936.5 524V526M937.5 524V525M938.5 525V526M939.5 523V525M940.5 524V526M941.5 523V525M942.5 524V526M943.5 522V525M944.5 519V522M945.5 516V520M946.5 520V525M947.5 521V526M948.5 515V521M949.5 520V526M950.5 520V526M951.5 524V525M952.5 523V524M953.5 524V526M954.5 525V526M955.5 524V525M956.5 525V526M957.5 524V525M958.5 525V526M959.5 525V526M960.5 523V525M961.5 522V524M962.5 524V526M963.5 525V526M964.5 525V526M965.5 524V529M966.5 524V527M967.5 525V526M968.5 524V525M969.5 525V526M970.5 524V525M971.5 522V525M972.5 524V528M973.5 525V528M974.5 522V525M975.5 523V525M976.5 524V526M977.5 522V524M978.5 524V526M979.5 521V526M980.5 521V524M981.5 523V526M982.5 524V525M983.5 525V526M984.5 525V526M985.5 521V526M986.5 516V521M987.5 521V526M988.5 525V526M989.5 525V526M990.5 525V526M991.5 525V526M992.5 525V526M993.5 525V526M994.5 523V526M995.5 524V525M996.5 525V526M997.5 524V525M998.5 525V526M999.5 525V526M1000.5 525V526M1001.5 525V526M1002.5 525V526M1003.5 523V526M1004.5 519V523M1005.5 522V525M1006.5 525V526M1007.5 525V526M1008.5 524V525M1009.5 525V526M1010.5 525V526M1011.5 523V525M1012.5 519V523M1013.5 515V519M1014.5 512V518M1015.5 518V524M1016.5 523V525M1017.5 525V526M1018.5 524V525M1019.5 525V526M1020.5 525V526M1021.5 524V525M1022.5 525V526M1023.5 525V526M1024.5 524V525M1025.5 524V525M1026.5 525V526M1027.5 525V526M1028.5 525V526M1029.5 523V525M1030.5 524V525M1031.5 525V526M1032.5 525V526M1033.5 525V526M1034.5 525V526M1035.5 524V525M1036.5 525V526M1037.5 523V526M1038.5 525V526M1039.5 524V525M1040.5 525V526M1041.5 525V526M1042.5 524V525M1043.5 525V526M1044.5 525V526M1045.5 525V526M1046.5 525V526M1047.5 524V525M1048.5 525V526M1049.5 523V525M1050.5 524V525M1051.5 523V524M1052.5 524V528M1053.5 521V525M1054.5 523V526M1055.5 524V525M1056.5 525V526M1057.5 523V525M1058.5 524V525M1059.5 523V525M1060.5 525V526M1061.5 524V525M1062.5 523V524M1063.5 524V526M1064.5 524V525M1065.5 524V525M1066.5 525V526M1067.5 524V525M1068.5 524V525M1069.5 525V526M1070.5 525V526M1071.5 525V526M1072.5 525V526M1073.5 512V525M1074.5 518V524M1075.5 524V526M1076.5 524V525M1077.5 524V526M1078.5 526V529M1079.5 525V527M1080.5 523V525M1081.5 523V524M1082.5 524V526M1083.5 522V524M1084.5 524V526M1085.5 524V525M1086.5 525V526M1087.5 525V526M1088.5 523V526M1089.5 519V523M1090.5 521V524M1091.5 523V524M1092.5 524V526M1093.5 525V526M1094.5 524V526M1095.5 522V526M1096.5 525V526M1097.5 524V525M1098.5 523V524M1099.5 524V526M1100.5 525V526M1101.5 525V526M1102.5 524V526M1103.5 524V525M1104.5 525V526M1105.5 525V526M1106.5 525V526M1107.5 524V526M1108.5 526V528M1109.5 524V527M1110.5 523V525M1111.5 521V523M1112.5 522V523M1113.5 523V525M1114.5 525V527M1115.5 525V529M1116.5 521V525M1117.5 523V529M1118.5 525V527M1119.5 481V487M1119.5 523V525M1120.5 437V526M1121.5 481V487M1121.5 519V522M1122.5 521V524M1123.5 523V524M1124.5 524V526M1125.5 522V524M1126.5 523V525M1127.5 523V528M1128.5 517V523M1129.5 521V526M1130.5 524V525M1131.5 520V526M1132.5 524V529M1133.5 525V527M1134.5 525V526M1135.5 526V528M1136.5 525V527M1137.5 524V525M1138.5 525V526M1139.5 525V526M1140.5 523V525M1141.5 523V525M1142.5 521V523M1143.5 523V526M1144.5 525V526M1145.5 525V526M1146.5 524V525M1147.5 525V527M1148.5 527V529M1149.5 525V527M1150.5 524V525M1151.5 524V525M1152.5 523V524M1153.5 522V526M1154.5 524V526M1155.5 526V529M1156.5 524V527M1157.5 522V524M1158.5 524V526M1159.5 525V526M1160.5 522V526M1161.5 524V526M1162.5 525V526M1163.5 524V525M1164.5 525V526M1165.5 523V525M1166.5 521V523M1167.5 519V524M1168.5 524V526M1169.5 524V525M1170.5 525V526M1171.5 525V528M1172.5 521V525M1173.5 523V525M1174.5 525V526M1175.5 525V526M1176.5 525V526M1177.5 523V526M1178.5 520V523M1179.5 519V525M1180.5 513V519M1181.5 517V522M1182.5 522V524M1183.5 520V525M1184.5 515V520M1185.5 520V525M1186.5 525V526M1187.5 525V526M1188.5 524V526M1189.5 522V526M1190.5 525V526M1191.5 523V526M1192.5 520V523M1193.5 523V526M1194.5 523V526M1195.5 526V529M1196.5 524V527M1197.5 525V526M1198.5 524V525M1199.5 525V526M1200.5 525V526M1201.5 524V526M1202.5 521V524M1203.5 524V528M1204.5 525V526M1205.5 525V526M1206.5 524V526M1207.5 522V524M1208.5 524V526M1209.5 525V526M1210.5 524V525M1211.5 525V526M1212.5 524V525M1213.5 525V526M1214.5 525V526M1215.5 525V526M1216.5 524V525M1217.5 525V526M1218.5 524V528M1219.5 524V525M1220.5 525V526M1221.5 524V525M1222.5 525V526M1223.5 525V526M1224.5 525V526M1225.5 525V526M1226.5 523V525M1227.5 521V523M1228.5 523V526M1229.5 525V526M1230.5 523V525M1231.5 524V526M1232.5 520V526M1233.5 523V527M1234.5 524V529M1235.5 519V524M1236.5 522V525M1237.5 524V526M1238.5 526V529M1239.5 525V527M1240.5 448V526M1241.5 422V474M1242.5 474V526M1243.5 523V525M1244.5 519V523M1245.5 514V519M1246.5 511V518M1247.5 518V525M1248.5 523V524M1249.5 524V526M1250.5 522V524M1251.5 523V525M1252.5 524V525M1253.5 523V524M1254.5 524V526M1255.5 524V525M1256.5 522V524M1257.5 523V525M1258.5 524V525M1259.5 524V525M1260.5 525V526M1261.5 523V526M1262.5 524V525M1263.5 524V526M1264.5 526V528M1265.5 525V527M1266.5 525V526M1267.5 525V526M1268.5 524V526M1269.5 525V526M1270.5 524V526M1271.5 521V524M1272.5 523V526M1273.5 525V526M1274.5 525V526M1275.5 524V525M1276.5 523V526M1277.5 521V524M1278.5 523V526M1279.5 515V523M1280.5 509V517M1281.5 517V526M1282.5 524V525M1283.5 523V526M1284.5 522V523M1285.5 520V522M1286.5 519V520M1287.5 517V520M1288.5 520V524M1289.5 524V526M1290.5 523V528M1291.5 522V523M1292.5 523V525M1293.5 523V524M1294.5 524V526M1295.5 523V525M1296.5 524V526M1297.5 524V525M1298.5 522V524M1299.5 523V524M1300.5 524V526M1301.5 525V526M1302.5 525V526M1303.5 524V525M1304.5 522V524M1305.5 520V526M1306.5 522V526M1307.5 526V529M1308.5 524V527M1309.5 523V524M1310.5 524V526M1311.5 522V524M1312.5 524V528M1313.5 523V526M1314.5 524V525M1315.5 524V525M1316.5 524V525M1317.5 524V525M1318.5 525V526M1319.5 524V528M1320.5 520V524M1321.5 524V528M1322.5 525V527M1323.5 525V526M1324.5 525V526M1325.5 523V525M1326.5 524V526M1327.5 525V526M1328.5 524V525M1329.5 525V526M1330.5 525V526M1331.5 525V526M1332.5 523V525M1333.5 520V523M1334.5 518V522M1335.5 522V526M1336.5 524V526M1337.5 520V524M1338.5 516V520M1339.5 513V519M1340.5 519V526M1341.5 518V524M1342.5 524V526M1343.5 525V526M1344.5 524V526M1345.5 525V528M1346.5 522V525M1347.5 523V525M1348.5 524V525M1349.5 525V526M1350.5 524V525M1351.5 525V526M1352.5 497V526M1353.5 467V497M1354.5 496V526M1355.5 524V526M1356.5 524V525M1357.5 525V526M1358.5 523V525M1359.5 524V526M1360.5 524V525M1361.5 525V526M1362.5 523V526M1363.5 524V526M1364.5 524V525M1365.5 524V525M1366.5 525V526" fill="none" stroke="#0080ff" stroke-width="1" shape-rendering="crispEdges"/>
<rect x="108" y="525" width="1258" height="1" fill="#0080ff" shape-rendering="crispEdges"/>
<rect x="1288" y="110" width="57" height="1" fill="#0080ff" shape-rendering="crispEdges"/>
<rect x="1310.5" y="123.5" width="12" height="12" fill="none" stroke="#c000ff" shape-rendering="crispEdges"/>
<rect x="200" y="481" width="13" height="13" fill="#00eeee" shape-rendering="crispEdges"/>
<rect x="597" y="481" width="13" height="13" fill="#00eeee" shape-rendering="crispEdges"/>
<rect x="1207" y="481" width="13" height="13" fill="#00eeee" shape-rendering="crispEdges"/>
<rect x="1310" y="142" width="13" height="13" fill="#00eeee" shape-rendering="crispEdges"/>
<path transform="translate(103.5 488.5)" d="M-3.5 -5.5h7v1h-7zM-3.5 4.5h7v1h-7zM-4.5 -4.5h1v1h-1zM3.5 -4.5h1v1h-1zM-4.5 3.5h1v1h-1zM3.5 3.5h1v1h-1zM-0.5 -6.5h1v1h-1zM-0.5 5.5h1v1h-1zM-6.5 -0.5h1v1h-1zM5.5 -0.5h1v1h-1zM-5.5-3.5h1v7h-1zM4.5-3.5h1v7h-1z" fill="#c04000" shape-rendering="crispEdges"/>
<path transform="translate(149.5 487.5)" d="M-3.5 -5.5h7v1h-7zM-3.5 4.5h7v1h-7zM-4.5 -4.5h1v1h-1zM3.5 -4.5h1v1h-1zM-4.5 3.5h1v1h-1zM3.5 3.5h1v1h-1zM-0.5 -6.5h1v1h-1zM-0.5 5.5h1v1h-1zM-6.5 -0.5h1v1h-1zM5.5 -0.5h1v1h-1zM-5.5-3.5h1v7h-1zM4.5-3.5h1v7h-1z" fill="#c04000" shape-rendering="crispEdges"/>
<path transform="translate(208.5 489.5)" d="M-3.5 -5.5h7v1h-7zM-3.5 4.5h7v1h-7zM-4.5 -4.5h1v1h-1zM3.5 -4.5h1v1h-1zM-4.5 3.5h1v1h-1zM3.5 3.5h1v1h-1zM-0.5 -6.5h1v1h-1zM-0.5 5.5h1v1h-1zM-6.5 -0.5h1v1h-1zM5.5 -0.5h1v1h-1zM-5.5-3.5h1v7h-1zM4.5-3.5h1v7h-1z" fill="#c04000" shape-rendering="crispEdges"/>
<path transform="translate(255.5 482.5)" d="M-3.5 -5.5h7v1h-7zM-3.5 4.5h7v1h-7zM-4.5 -4.5h1v1h-1zM3.5 -4.5h1v1h-1zM-4.5 3.5h1v1h-1zM3.5 3.5h1v1h-1zM-0.5 -6.5h1v1h-1zM-0.5 5.5h1v1h-1zM-6.5 -0.5h1v1h-1zM5.5 -0.5h1v1h-1zM-5.5-3.5h1v7h-1zM4.5-3.5h1v7h-1z" fill="#c04000" shape-rendering="crispEdges"/>
<path transform="translate(261.5 488.5)" d="M-3.5 -5.5h7v1h-7zM-3.5 4.5h7v1h-7zM-4.5 -4.5h1v1h-1zM3.5 -4.5h1v1h-1zM-4.5 3.5h1v1h-1zM3.5 3.5h1v1h-1zM-0.5 -6.5h1v1h-1zM-0.5 5.5h1v1h-1zM-6.5 -0.5h1v1h-1zM5.5 -0.5h1v1h-1zM-5.5-3.5h1v7h-1zM4.5-3.5h1v7h-1z" fill="#c04000" shape-rendering="crispEdges"/>
<path transform="translate(307.5 488.5)" d="M-3.5 -5.5h7v1h-7zM-3.5 4.5h7v1h-7zM-4.5 -4.5h1v1h-1zM3.5 -4.5h1v1h-1zM-4.5 3.5h1v1h-1zM3.5 3.5h1v1h-1zM-0.5 -6.5h1v1h-1zM-0.5 5.5h1v1h-1zM-6.5 -0.5h1v1h-1zM5.5 -0.5h1v1h-1zM-5.5-3.5h1v7h-1zM4.5-3.5h1v7h-1z" fill="#c04000" shape-rendering="crispEdges"/>
<path transform="translate(314.5 482.5)" d="M-3.5 -5.5h7v1h-7zM-3.5 4.5h7v1h-7zM-4.5 -4.5h1v1h-1zM3.5 -4.5h1v1h-1zM-4.5 3.5h1v1h-1zM3.5 3.5h1v1h-1zM-0.5 -6.5h1v1h-1zM-0.5 5.5h1v1h-1zM-6.5 -0.5h1v1h-1zM5.5 -0.5h1v1h-1zM-5.5-3.5h1v7h-1zM4.5-3.5h1v7h-1z" fill="#c04000" shape-rendering="crispEdges"/>
<path transform="translate(360.5 488.5)" d="M-3.5 -5.5h7v1h-7zM-3.5 4.5h7v1h-7zM-4.5 -4.5h1v1h-1zM3.5 -4.5h1v1h-1zM-4.5 3.5h1v1h-1zM3.5 3.5h1v1h-1zM-0.5 -6.5h1v1h-1zM-0.5 5.5h1v1h-1zM-6.5 -0.5h1v1h-1zM5.5 -0.5h1v1h-1zM-5.5-3.5h1v7h-1zM4.5-3.5h1v7h-1z" fill="#c04000" shape-rendering="crispEdges"/>
<path transform="translate(366.5 488.5)" d="M-3.5 -5.5h7v1h-7zM-3.5 4.5h7v1h-7zM-4.5 -4.5h1v1h-1zM3.5 -4.5h1v1h-1zM-4.5 3.5h1v1h-1zM3.5 3.5h1v1h-1zM-0.5 -6.5h1v1h-1zM-0.5 5.5h1v1h-1zM-6.5 -0.5h1v1h-1zM5.5 -0.5h1v1h-1zM-5.5-3.5h1v7h-1zM4.5-3.5h1v7h-1z" fill="#c04000" shape-rendering="crispEdges"/>
<path transform="translate(413.5 485.5)" d="M-3.5 -5.5h7v1h-7zM-3.5 4.5h7v1h-7zM-4.5 -4.5h1v1h-1zM3.5 -4.5h1v1h-1zM-4.5 3.5h1v1h-1zM3.5 3.5h1v1h-1zM-0.5 -6.5h1v1h-1zM-0.5 5.5h1v1h-1zM-6.5 -0.5h1v1h-1zM5.5 -0.5h1v1h-1zM-5.5-3.5h1v7h-1zM4.5-3.5h1v7h-1z" fill="#c04000" shape-rendering="crispEdges"/>
<path transform="translate(419.5 488.5)" d="M-3.5 -5.5h7v1h-7zM-3.5 4.5h7v1h-7zM-4.5 -4.5h1v1h-1zM3.5 -4.5h1v1h-1zM-4.5 3.5h1v1h-1zM3.5 3.5h1v1h-1zM-0.5 -6.5h1v1h-1zM-0.5 5.5h1v1h-1zM-6.5 -0.5h1v1h-1zM5.5 -0.5h1v1h-1zM-5.5-3.5h1v7h-1zM4.5-3.5h1v7h-1z" fill="#c04000" shape-rendering="crispEdges"/>
<path transform="translate(466.5 485.5)" d="M-3.5 -5.5h7v1h-7zM-3.5 4.5h7v1h-7zM-4.5 -4.5h1v1h-1zM3.5 -4.5h1v1h-1zM-4.5 3.5h1v1h-1zM3.5 3.5h1v1h-1zM-0.5 -6.5h1v1h-1zM-0.5 5.5h1v1h-1zM-6.5 -0.5h1v1h-1zM5.5 -0.5h1v1h-1zM-5.5-3.5h1v7h-1zM4.5-3.5h1v7h-1z" fill="#c04000" shape-rendering="crispEdges"/>
<path transform="translate(472.5 487.5)" d="M-3.5 -5.5h7v1h-7zM-3.5 4.5h7v1h-7zM-4.5 -4.5h1v1h-1zM3.5 -4.5h1v1h-1zM-4.5 3.5h1v1h-1zM3.5 3.5h1v1h-1zM-0.5 -6.5h1v1h-1zM-0.5 5.5h1v1h-1zM-6.5 -0.5h1v1h-1zM5.5 -0.5h1v1h-1zM-5.5-3.5h1v7h-1zM4.5-3.5h1v7h-1z" fill="#c04000" shape-rendering="crispEdges"/>
<path transform="translate(518.5 485.5)" d="M-3.5 -5.5h7v1h-7zM-3.5 4.5h7v1h-7zM-4.5 -4.5h1v1h-1zM3.5 -4.5h1v1h-1zM-4.5 3.5h1v1h-1zM3.5 3.5h1v1h-1zM-0.5 -6.5h1v1h-1zM-0.5 5.5h1v1h-1zM-6.5 -0.5h1v1h-1zM5.5 -0.5h1v1h-1zM-5.5-3.5h1v7h-1zM4.5-3.5h1v7h-1z" fill="#c04000" shape-rendering="crispEdges"/>
<path transform="translate(524.5 488.5)" d="M-3.5 -5.5h7v1h-7zM-3.5 4.5h7v1h-7zM-4.5 -4.5h1v1h-1zM3.5 -4.5h1v1h-1zM-4.5 3.5h1v1h-1zM3.5 3.5h1v1h-1zM-0.5 -6.5h1v1h-1zM-0.5 5.5h1v1h-1zM-6.5 -0.5h1v1h-1zM5.5 -0.5h1v1h-1zM-5.5-3.5h1v7h-1zM4.5-3.5h1v7h-1z" fill="#c04000" shape-rendering="crispEdges"/>
<path transform="translate(571.5 487.5)" d="M-3.5 -5.5h7v1h-7zM-3.5 4.5h7v1h-7zM-4.5 -4.5h1v1h-1zM3.5 -4.5h1v1h-1zM-4.5 3.5h1v1h-1zM3.5 3.5h1v1h-1zM-0.5 -6.5h1v1h-1zM-0.5 5.5h1v1h-1zM-6.5 -0.5h1v1h-1zM5.5 -0.5h1v1h-1zM-5.5-3.5h1v7h-1zM4.5-3.5h1v7h-1z" fill="#c04000" shape-rendering="crispEdges"/>
<path transform="translate(577.5 486.5)" d="M-3.5 -5.5h7v1h-7zM-3.5 4.5h7v1h-7zM-4.5 -4.5h1v1h-1zM3.5 -4.5h1v1h-1zM-4.5 3.5h1v1h-1zM3.5 3.5h1v1h-1zM-0.5 -6.5h1v1h-1zM-0.5 5.5h1v1h-1zM-6.5 -0.5h1v1h-1zM5.5 -0.5h1v1h-1zM-5.5-3.5h1v7h-1zM4.5-3.5h1v7h-1z" fill="#c04000" shape-rendering="crispEdges"/>
<path transform="translate(624.5 486.5)" d="M-3.5 -5.5h7v1h-7zM-3.5 4.5h7v1h-7zM-4.5 -4.5h1v1h-1zM3.5 -4.5h1v1h-1zM-4.5 3.5h1v1h-1zM3.5 3.5h1v1h-1zM-0.5 -6.5h1v1h-1zM-0.5 5.5h1v1h-1zM-6.5 -0.5h1v1h-1zM5.5 -0.5h1v1h-1zM-5.5-3.5h1v7h-1zM4.5-3.5h1v7h-1z" fill="#c04000" shape-rendering="crispEdges"/>
<path transform="translate(630.5 485.5)" d="M-3.5 -5.5h7v1h-7zM-3.5 4.5h7v1h-7zM-4.5 -4.5h1v1h-1zM3.5 -4.5h1v1h-1zM-4.5 3.5h1v1h-1zM3.5 3.5h1v1h-1zM-0.5 -6.5h1v1h-1zM-0.5 5.5h1v1h-1zM-6.5 -0.5h1v1h-1zM5.5 -0.5h1v1h-1zM-5.5-3.5h1v7h-1zM4.5-3.5h1v7h-1z" fill="#c04000" shape-rendering="crispEdges"/>
<path transform="translate(676.5 488.5)" d="M-3.5 -5.5h7v1h-7zM-3.5 4.5h7v1h-7zM-4.5 -4.5h1v1h-1zM3.5 -4.5h1v1h-1zM-4.5 3.5h1v1h-1zM3.5 3.5h1v1h-1zM-0.5 -6.5h1v1h-1zM-0.5 5.5h1v1h-1zM-6.5 -0.5h1v1h-1zM5.5 -0.5h1v1h-1zM-5.5-3.5h1v7h-1zM4.5-3.5h1v7h-1z" fill="#c04000" shape-rendering="crispEdges"/>
<path transform="translate(683.5 442.5)" d="M-3.5 -5.5h7v1h-7zM-3.5 4.5h7v1h-7zM-4.5 -4.5h1v1h-1zM3.5 -4.5h1v1h-1zM-4.5 3.5h1v1h-1zM3.5 3.5h1v1h-1zM-0.5 -6.5h1v1h-1zM-0.5 5.5h1v1h-1zM-6.5 -0.5h1v1h-1zM5.5 -0.5h1v1h-1zM-5.5-3.5h1v7h-1zM4.5-3.5h1v7h-1z" fill="#c04000" shape-rendering="crispEdges"/>
<path transform="translate(729.5 488.5)" d="M-3.5 -5.5h7v1h-7zM-3.5 4.5h7v1h-7zM-4.5 -4.5h1v1h-1zM3.5 -4.5h1v1h-1zM-4.5 3.5h1v1h-1zM3.5 3.5h1v1h-1zM-0.5 -6.5h1v1h-1zM-0.5 5.5h1v1h-1zM-6.5 -0.5h1v1h-1zM5.5 -0.5h1v1h-1zM-5.5-3.5h1v7h-1zM4.5-3.5h1v7h-1z" fill="#c04000" shape-rendering="crispEdges"/>
<path transform="translate(735.5 485.5)" d="M-3.5 -5.5h7v1h-7zM-3.5 4.5h7v1h-7zM-4.5 -4.5h1v1h-1zM3.5 -4.5h1v1h-1zM-4.5 3.5h1v1h-1zM3.5 3.5h1v1h-1zM-0.5 -6.5h1v1h-1zM-0.5 5.5h1v1h-1zM-6.5 -0.5h1v1h-1zM5.5 -0.5h1v1h-1zM-5.5-3.5h1v7h-1zM4.5-3.5h1v7h-1z" fill="#c04000" shape-rendering="crispEdges"/>
<path transform="translate(782.5 485.5)" d="M-3.5 -5.5h7v1h-7zM-3.5 4.5h7v1h-7zM-4.5 -4.5h1v1h-1zM3.5 -4.5h1v1h-1zM-4.5 3.5h1v1h-1zM3.5 3.5h1v1h-1zM-0.5 -6.5h1v1h-1zM-0.5 5.5h1v1h-1zM-6.5 -0.5h1v1h-1zM5.5 -0.5h1v1h-1zM-5.5-3.5h1v7h-1zM4.5-3.5h1v7h-1z" fill="#c04000" shape-rendering="crispEdges"/>
<path transform="translate(788.5 485.5)" d="M-3.5 -5.5h7v1h-7zM-3.5 4.5h7v1h-7zM-4.5 -4.5h1v1h-1zM3.5 -4.5h1v1h-1zM-4.5 3.5h1v1h-1zM3.5 3.5h1v1h-1zM-0.5 -6.5h1v1h-1zM-0.5 5.5h1v1h-1zM-6.5 -0.5h1v1h-1zM5.5 -0.5h1v1h-1zM-5.5-3.5h1v7h-1zM4.5-3.5h1v7h-1z" fill="#c04000" shape-rendering="crispEdges"/>
<path transform="translate(835.5 487.5)" d="M-3.5 -5.5h7v1h-7zM-3.5 4.5h7v1h-7zM-4.5 -4.5h1v1h-1zM3.5 -4.5h1v1h-1zM-4.5 3.5h1v1h-1zM3.5 3.5h1v1h-1zM-0.5 -6.5h1v1h-1zM-0.5 5.5h1v1h-1zM-6.5 -0.5h1v1h-1zM5.5 -0.5h1v1h-1zM-5.5-3.5h1v7h-1zM4.5-3.5h1v7h-1z" fill="#c04000" shape-rendering="crispEdges"/>
<path transform="translate(841.5 482.5)" d="M-3.5 -5.5h7v1h-7zM-3.5 4.5h7v1h-7zM-4.5 -4.5h1v1h-1zM3.5 -4.5h1v1h-1zM-4.5 3.5h1v1h-1zM3.5 3.5h1v1h-1zM-0.5 -6.5h1v1h-1zM-0.5 5.5h1v1h-1zM-6.5 -0.5h1v1h-1zM5.5 -0.5h1v1h-1zM-5.5-3.5h1v7h-1zM4.5-3.5h1v7h-1z" fill="#c04000" shape-rendering="crispEdges"/>
<path transform="translate(887.5 485.5)" d="M-3.5 -5.5h7v1h-7zM-3.5 4.5h7v1h-7zM-4.5 -4.5h1v1h-1zM3.5 -4.5h1v1h-1zM-4.5 3.5h1v1h-1zM3.5 3.5h1v1h-1zM-0.5 -6.5h1v1h-1zM-0.5 5.5h1v1h-1zM-6.5 -0.5h1v1h-1zM5.5 -0.5h1v1h-1zM-5.5-3.5h1v7h-1zM4.5-3.5h1v7h-1z" fill="#c04000" shape-rendering="crispEdges"/>
<path transform="translate(893.5 484.5)" d="M-3.5 -5.5h7v1h-7zM-3.5 4.5h7v1h-7zM-4.5 -4.5h1v1h-1zM3.5 -4.5h1v1h-1zM-4.5 3.5h1v1h-1zM3.5 3.5h1v1h-1zM-0.5 -6.5h1v1h-1zM-0.5 5.5h1v1h-1zM-6.5 -0.5h1v1h-1zM5.5 -0.5h1v1h-1zM-5.5-3.5h1v7h-1zM4.5-3.5h1v7h-1z" fill="#c04000" shape-rendering="crispEdges"/>
<path transform="translate(940.5 483.5)" d="M-3.5 -5.5h7v1h-7zM-3.5 4.5h7v1h-7zM-4.5 -4.5h1v1h-1zM3.5 -4.5h1v1h-1zM-4.5 3.5h1v1h-1zM3.5 3.5h1v1h-1zM-0.5 -6.5h1v1h-1zM-0.5 5.5h1v1h-1zM-6.5 -0.5h1v1h-1zM5.5 -0.5h1v1h-1zM-5.5-3.5h1v7h-1zM4.5-3.5h1v7h-1z" fill="#c04000" shape-rendering="crispEdges"/>
<path transform="translate(946.5 464.5)" d="M-3.5 -5.5h7v1h-7zM-3.5 4.5h7v1h-7zM-4.5 -4.5h1v1h-1zM3.5 -4.5h1v1h-1zM-4.5 3.5h1v1h-1zM3.5 3.5h1v1h-1zM-0.5 -6.5h1v1h-1zM-0.5 5.5h1v1h-1zM-6.5 -0.5h1v1h-1zM5.5 -0.5h1v1h-1zM-5.5-3.5h1v7h-1zM4.5-3.5h1v7h-1z" fill="#c04000" shape-rendering="crispEdges"/>
<path transform="translate(993.5 484.5)" d="M-3.5 -5.5h7v1h-7zM-3.5 4.5h7v1h-7zM-4.5 -4.5h1v1h-1zM3.5 -4.5h1v1h-1zM-4.5 3.5h1v1h-1zM3.5 3.5h1v1h-1zM-0.5 -6.5h1v1h-1zM-0.5 5.5h1v1h-1zM-6.5 -0.5h1v1h-1zM5.5 -0.5h1v1h-1zM-5.5-3.5h1v7h-1zM4.5-3.5h1v7h-1z" fill="#c04000" shape-rendering="crispEdges"/>
<path transform="translate(999.5 486.5)" d="M-3.5 -5.5h7v1h-7zM-3.5 4.5h7v1h-7zM-4.5 -4.5h1v1h-1zM3.5 -4.5h1v1h-1zM-4.5 3.5h1v1h-1zM3.5 3.5h1v1h-1zM-0.5 -6.5h1v1h-1zM-0.5 5.5h1v1h-1zM-6.5 -0.5h1v1h-1zM5.5 -0.5h1v1h-1zM-5.5-3.5h1v7h-1zM4.5-3.5h1v7h-1z" fill="#c04000" shape-rendering="crispEdges"/>
<path transform="translate(1045.5 480.5)" d="M-3.5 -5.5h7v1h-7zM-3.5 4.5h7v1h-7zM-4.5 -4.5h1v1h-1zM3.5 -4.5h1v1h-1zM-4.5 3.5h1v1h-1zM3.5 3.5h1v1h-1zM-0.5 -6.5h1v1h-1zM-0.5 5.5h1v1h-1zM-6.5 -0.5h1v1h-1zM5.5 -0.5h1v1h-1zM-5.5-3.5h1v7h-1zM4.5-3.5h1v7h-1z" fill="#c04000" shape-rendering="crispEdges"/>
<path transform="translate(1052.5 479.5)" d="M-3.5 -5.5h7v1h-7zM-3.5 4.5h7v1h-7zM-4.5 -4.5h1v1h-1zM3.5 -4.5h1v1h-1zM-4.5 3.5h1v1h-1zM3.5 3.5h1v1h-1zM-0.5 -6.5h1v1h-1zM-0.5 5.5h1v1h-1zM-6.5 -0.5h1v1h-1zM5.5 -0.5h1v1h-1zM-5.5-3.5h1v7h-1zM4.5-3.5h1v7h-1z" fill="#c04000" shape-rendering="crispEdges"/>
<path transform="translate(1098.5 467.5)" d="M-3.5 -5.5h7v1h-7zM-3.5 4.5h7v1h-7zM-4.5 -4.5h1v1h-1zM3.5 -4.5h1v1h-1zM-4.5 3.5h1v1h-1zM3.5 3.5h1v1h-1zM-0.5 -6.5h1v1h-1zM-0.5 5.5h1v1h-1zM-6.5 -0.5h1v1h-1zM5.5 -0.5h1v1h-1zM-5.5-3.5h1v7h-1zM4.5-3.5h1v7h-1z" fill="#c04000" shape-rendering="crispEdges"/>
<path transform="translate(1104.5 465.5)" d="M-3.5 -5.5h7v1h-7zM-3.5 4.5h7v1h-7zM-4.5 -4.5h1v1h-1zM3.5 -4.5h1v1h-1zM-4.5 3.5h1v1h-1zM3.5 3.5h1v1h-1zM-0.5 -6.5h1v1h-1zM-0.5 5.5h1v1h-1zM-6.5 -0.5h1v1h-1zM5.5 -0.5h1v1h-1zM-5.5-3.5h1v7h-1zM4.5-3.5h1v7h-1z" fill="#c04000" shape-rendering="crispEdges"/>
<path transform="translate(1151.5 468.5)" d="M-3.5 -5.5h7v1h-7zM-3.5 4.5h7v1h-7zM-4.5 -4.5h1v1h-1zM3.5 -4.5h1v1h-1zM-4.5 3.5h1v1h-1zM3.5 3.5h1v1h-1zM-0.5 -6.5h1v1h-1zM-0.5 5.5h1v1h-1zM-6.5 -0.5h1v1h-1zM5.5 -0.5h1v1h-1zM-5.5-3.5h1v7h-1zM4.5-3.5h1v7h-1z" fill="#c04000" shape-rendering="crispEdges"/>
<path transform="translate(1157.5 468.5)" d="M-3.5 -5.5h7v1h-7zM-3.5 4.5h7v1h-7zM-4.5 -4.5h1v1h-1zM3.5 -4.5h1v1h-1zM-4.5 3.5h1v1h-1zM3.5 3.5h1v1h-1zM-0.5 -6.5h1v1h-1zM-0.5 5.5h1v1h-1zM-6.5 -0.5h1v1h-1zM5.5 -0.5h1v1h-1zM-5.5-3.5h1v7h-1zM4.5-3.5h1v7h-1z" fill="#c04000" shape-rendering="crispEdges"/>
<path transform="translate(1203.5 461.5)" d="M-3.5 -5.5h7v1h-7zM-3.5 4.5h7v1h-7zM-4.5 -4.5h1v1h-1zM3.5 -4.5h1v1h-1zM-4.5 3.5h1v1h-1zM3.5 3.5h1v1h-1zM-0.5 -6.5h1v1h-1zM-0.5 5.5h1v1h-1zM-6.5 -0.5h1v1h-1zM5.5 -0.5h1v1h-1zM-5.5-3.5h1v7h-1zM4.5-3.5h1v7h-1z" fill="#c04000" shape-rendering="crispEdges"/>
<path transform="translate(1210.5 463.5)" d="M-3.5 -5.5h7v1h-7zM-3.5 4.5h7v1h-7zM-4.5 -4.5h1v1h-1zM3.5 -4.5h1v1h-1zM-4.5 3.5h1v1h-1zM3.5 3.5h1v1h-1zM-0.5 -6.5h1v1h-1zM-0.5 5.5h1v1h-1zM-6.5 -0.5h1v1h-1zM5.5 -0.5h1v1h-1zM-5.5-3.5h1v7h-1zM4.5-3.5h1v7h-1z" fill="#c04000" shape-rendering="crispEdges"/>
<path transform="translate(1256.5 476.5)" d="M-3.5 -5.5h7v1h-7zM-3.5 4.5h7v1h-7zM-4.5 -4.5h1v1h-1zM3.5 -4.5h1v1h-1zM-4.5 3.5h1v1h-1zM3.5 3.5h1v1h-1zM-0.5 -6.5h1v1h-1zM-0.5 5.5h1v1h-1zM-6.5 -0.5h1v1h-1zM5.5 -0.5h1v1h-1zM-5.5-3.5h1v7h-1zM4.5-3.5h1v7h-1z" fill="#c04000" shape-rendering="crispEdges"/>
<path transform="translate(1262.5 485.5)" d="M-3.5 -5.5h7v1h-7zM-3.5 4.5h7v1h-7zM-4.5 -4.5h1v1h-1zM3.5 -4.5h1v1h-1zM-4.5 3.5h1v1h-1zM3.5 3.5h1v1h-1zM-0.5 -6.5h1v1h-1zM-0.5 5.5h1v1h-1zM-6.5 -0.5h1v1h-1zM5.5 -0.5h1v1h-1zM-5.5-3.5h1v7h-1zM4.5-3.5h1v7h-1z" fill="#c04000" shape-rendering="crispEdges"/>
<path transform="translate(1309.5 487.5)" d="M-3.5 -5.5h7v1h-7zM-3.5 4.5h7v1h-7zM-4.5 -4.5h1v1h-1zM3.5 -4.5h1v1h-1zM-4.5 3.5h1v1h-1zM3.5 3.5h1v1h-1zM-0.5 -6.5h1v1h-1zM-0.5 5.5h1v1h-1zM-6.5 -0.5h1v1h-1zM5.5 -0.5h1v1h-1zM-5.5-3.5h1v7h-1zM4.5-3.5h1v7h-1z" fill="#c04000" shape-rendering="crispEdges"/>
<path transform="translate(1315.5 487.5)" d="M-3.5 -5.5h7v1h-7zM-3.5 4.5h7v1h-7zM-4.5 -4.5h1v1h-1zM3.5 -4.5h1v1h-1zM-4.5 3.5h1v1h-1zM3.5 3.5h1v1h-1zM-0.5 -6.5h1v1h-1zM-0.5 5.5h1v1h-1zM-6.5 -0.5h1v1h-1zM5.5 -0.5h1v1h-1zM-5.5-3.5h1v7h-1zM4.5-3.5h1v7h-1z" fill="#c04000" shape-rendering="crispEdges"/>
<path transform="translate(1362.5 487.5)" d="M-3.5 -5.5h7v1h-7zM-3.5 4.5h7v1h-7zM-4.5 -4.5h1v1h-1zM3.5 -4.5h1v1h-1zM-4.5 3.5h1v1h-1zM3.5 3.5h1v1h-1zM-0.5 -6.5h1v1h-1zM-0.5 5.5h1v1h-1zM-6.5 -0.5h1v1h-1zM5.5 -0.5h1v1h-1zM-5.5-3.5h1v7h-1zM4.5-3.5h1v7h-1z" fill="#c04000" shape-rendering="crispEdges"/>
<path transform="translate(1316.5 167.5)" d="M-3.5 -5.5h7v1h-7zM-3.5 4.5h7v1h-7zM-4.5 -4.5h1v1h-1zM3.5 -4.5h1v1h-1zM-4.5 3.5h1v1h-1zM3.5 3.5h1v1h-1zM-0.5 -6.5h1v1h-1zM-0.5 5.5h1v1h-1zM-6.5 -0.5h1v1h-1zM5.5 -0.5h1v1h-1zM-5.5-3.5h1v7h-1zM4.5-3.5h1v7h-1z" fill="#c04000" shape-rendering="crispEdges"/>
<path transform="translate(103.5 529.5)" d="M-3.5-5.5h7v1h1v1h1v7h-1v1h-1v1h-7v-1h-1v-1h-1v-7h1v-1h1zM-.5-6.5h1v13h-1z" fill="#c8c800" shape-rendering="crispEdges"/>
<path transform="translate(149.5 530.5)" d="M-3.5-5.5h7v1h1v1h1v7h-1v1h-1v1h-7v-1h-1v-1h-1v-7h1v-1h1zM-.5-6.5h1v13h-1z" fill="#c8c800" shape-rendering="crispEdges"/>
<path transform="translate(208.5 530.5)" d="M-3.5-5.5h7v1h1v1h1v7h-1v1h-1v1h-7v-1h-1v-1h-1v-7h1v-1h1zM-.5-6.5h1v13h-1z" fill="#c8c800" shape-rendering="crispEdges"/>
<path transform="translate(255.5 529.5)" d="M-3.5-5.5h7v1h1v1h1v7h-1v1h-1v1h-7v-1h-1v-1h-1v-7h1v-1h1zM-.5-6.5h1v13h-1z" fill="#c8c800" shape-rendering="crispEdges"/>
<path transform="translate(261.5 529.5)" d="M-3.5-5.5h7v1h1v1h1v7h-1v1h-1v1h-7v-1h-1v-1h-1v-7h1v-1h1zM-.5-6.5h1v13h-1z" fill="#c8c800" shape-rendering="crispEdges"/>
<path transform="translate(307.5 529.5)" d="M-3.5-5.5h7v1h1v1h1v7h-1v1h-1v1h-7v-1h-1v-1h-1v-7h1v-1h1zM-.5-6.5h1v13h-1z" fill="#c8c800" shape-rendering="crispEdges"/>
<path transform="translate(314.5 530.5)" d="M-3.5-5.5h7v1h1v1h1v7h-1v1h-1v1h-7v-1h-1v-1h-1v-7h1v-1h1zM-.5-6.5h1v13h-1z" fill="#c8c800" shape-rendering="crispEdges"/>
<path transform="translate(360.5 529.5)" d="M-3.5-5.5h7v1h1v1h1v7h-1v1h-1v1h-7v-1h-1v-1h-1v-7h1v-1h1zM-.5-6.5h1v13h-1z" fill="#c8c800" shape-rendering="crispEdges"/>
<path transform="translate(367.5 530.5)" d="M-3.5-5.5h7v1h1v1h1v7h-1v1h-1v1h-7v-1h-1v-1h-1v-7h1v-1h1zM-.5-6.5h1v13h-1z" fill="#c8c800" shape-rendering="crispEdges"/>
<path transform="translate(413.5 530.5)" d="M-3.5-5.5h7v1h1v1h1v7h-1v1h-1v1h-7v-1h-1v-1h-1v-7h1v-1h1zM-.5-6.5h1v13h-1z" fill="#c8c800" shape-rendering="crispEdges"/>
<path transform="translate(420.5 529.5)" d="M-3.5-5.5h7v1h1v1h1v7h-1v1h-1v1h-7v-1h-1v-1h-1v-7h1v-1h1zM-.5-6.5h1v13h-1z" fill="#c8c800" shape-rendering="crispEdges"/>
<path transform="translate(466.5 529.5)" d="M-3.5-5.5h7v1h1v1h1v7h-1v1h-1v1h-7v-1h-1v-1h-1v-7h1v-1h1zM-.5-6.5h1v13h-1z" fill="#c8c800" shape-rendering="crispEdges"/>
<path transform="translate(472.5 530.5)" d="M-3.5-5.5h7v1h1v1h1v7h-1v1h-1v1h-7v-1h-1v-1h-1v-7h1v-1h1zM-.5-6.5h1v13h-1z" fill="#c8c800" shape-rendering="crispEdges"/>
<path transform="translate(518.5 530.5)" d="M-3.5-5.5h7v1h1v1h1v7h-1v1h-1v1h-7v-1h-1v-1h-1v-7h1v-1h1zM-.5-6.5h1v13h-1z" fill="#c8c800" shape-rendering="crispEdges"/>
<path transform="translate(524.5 530.5)" d="M-3.5-5.5h7v1h1v1h1v7h-1v1h-1v1h-7v-1h-1v-1h-1v-7h1v-1h1zM-.5-6.5h1v13h-1z" fill="#c8c800" shape-rendering="crispEdges"/>
<path transform="translate(571.5 525.5)" d="M-3.5-5.5h7v1h1v1h1v7h-1v1h-1v1h-7v-1h-1v-1h-1v-7h1v-1h1zM-.5-6.5h1v13h-1z" fill="#c8c800" shape-rendering="crispEdges"/>
<path transform="translate(577.5 529.5)" d="M-3.5-5.5h7v1h1v1h1v7h-1v1h-1v1h-7v-1h-1v-1h-1v-7h1v-1h1zM-.5-6.5h1v13h-1z" fill="#c8c800" shape-rendering="crispEdges"/>
<path transform="translate(624.5 529.5)" d="M-3.5-5.5h7v1h1v1h1v7h-1v1h-1v1h-7v-1h-1v-1h-1v-7h1v-1h1zM-.5-6.5h1v13h-1z" fill="#c8c800" shape-rendering="crispEdges"/>
<path transform="translate(630.5 530.5)" d="M-3.5-5.5h7v1h1v1h1v7h-1v1h-1v1h-7v-1h-1v-1h-1v-7h1v-1h1zM-.5-6.5h1v13h-1z" fill="#c8c800" shape-rendering="crispEdges"/>
<path transform="translate(676.5 529.5)" d="M-3.5-5.5h7v1h1v1h1v7h-1v1h-1v1h-7v-1h-1v-1h-1v-7h1v-1h1zM-.5-6.5h1v13h-1z" fill="#c8c800" shape-rendering="crispEdges"/>
<path transform="translate(683.5 527.5)" d="M-3.5-5.5h7v1h1v1h1v7h-1v1h-1v1h-7v-1h-1v-1h-1v-7h1v-1h1zM-.5-6.5h1v13h-1z" fill="#c8c800" shape-rendering="crispEdges"/>
<path transform="translate(729.5 529.5)" d="M-3.5-5.5h7v1h1v1h1v7h-1v1h-1v1h-7v-1h-1v-1h-1v-7h1v-1h1zM-.5-6.5h1v13h-1z" fill="#c8c800" shape-rendering="crispEdges"/>
<path transform="translate(735.5 530.5)" d="M-3.5-5.5h7v1h1v1h1v7h-1v1h-1v1h-7v-1h-1v-1h-1v-7h1v-1h1zM-.5-6.5h1v13h-1z" fill="#c8c800" shape-rendering="crispEdges"/>
<path transform="translate(782.5 529.5)" d="M-3.5-5.5h7v1h1v1h1v7h-1v1h-1v1h-7v-1h-1v-1h-1v-7h1v-1h1zM-.5-6.5h1v13h-1z" fill="#c8c800" shape-rendering="crispEdges"/>
<path transform="translate(788.5 530.5)" d="M-3.5-5.5h7v1h1v1h1v7h-1v1h-1v1h-7v-1h-1v-1h-1v-7h1v-1h1zM-.5-6.5h1v13h-1z" fill="#c8c800" shape-rendering="crispEdges"/>
<path transform="translate(835.5 530.5)" d="M-3.5-5.5h7v1h1v1h1v7h-1v1h-1v1h-7v-1h-1v-1h-1v-7h1v-1h1zM-.5-6.5h1v13h-1z" fill="#c8c800" shape-rendering="crispEdges"/>
<path transform="translate(841.5 531.5)" d="M-3.5-5.5h7v1h1v1h1v7h-1v1h-1v1h-7v-1h-1v-1h-1v-7h1v-1h1zM-.5-6.5h1v13h-1z" fill="#c8c800" shape-rendering="crispEdges"/>
<path transform="translate(887.5 528.5)" d="M-3.5-5.5h7v1h1v1h1v7h-1v1h-1v1h-7v-1h-1v-1h-1v-7h1v-1h1zM-.5-6.5h1v13h-1z" fill="#c8c800" shape-rendering="crispEdges"/>
<path transform="translate(893.5 530.5)" d="M-3.5-5.5h7v1h1v1h1v7h-1v1h-1v1h-7v-1h-1v-1h-1v-7h1v-1h1zM-.5-6.5h1v13h-1z" fill="#c8c800" shape-rendering="crispEdges"/>
<path transform="translate(940.5 529.5)" d="M-3.5-5.5h7v1h1v1h1v7h-1v1h-1v1h-7v-1h-1v-1h-1v-7h1v-1h1zM-.5-6.5h1v13h-1z" fill="#c8c800" shape-rendering="crispEdges"/>
<path transform="translate(946.5 529.5)" d="M-3.5-5.5h7v1h1v1h1v7h-1v1h-1v1h-7v-1h-1v-1h-1v-7h1v-1h1zM-.5-6.5h1v13h-1z" fill="#c8c800" shape-rendering="crispEdges"/>
<path transform="translate(993.5 526.5)" d="M-3.5-5.5h7v1h1v1h1v7h-1v1h-1v1h-7v-1h-1v-1h-1v-7h1v-1h1zM-.5-6.5h1v13h-1z" fill="#c8c800" shape-rendering="crispEdges"/>
<path transform="translate(999.5 529.5)" d="M-3.5-5.5h7v1h1v1h1v7h-1v1h-1v1h-7v-1h-1v-1h-1v-7h1v-1h1zM-.5-6.5h1v13h-1z" fill="#c8c800" shape-rendering="crispEdges"/>
<path transform="translate(1045.5 529.5)" d="M-3.5-5.5h7v1h1v1h1v7h-1v1h-1v1h-7v-1h-1v-1h-1v-7h1v-1h1zM-.5-6.5h1v13h-1z" fill="#c8c800" shape-rendering="crispEdges"/>
<path transform="translate(1052.5 529.5)" d="M-3.5-5.5h7v1h1v1h1v7h-1v1h-1v1h-7v-1h-1v-1h-1v-7h1v-1h1zM-.5-6.5h1v13h-1z" fill="#c8c800" shape-rendering="crispEdges"/>
<path transform="translate(1098.5 530.5)" d="M-3.5-5.5h7v1h1v1h1v7h-1v1h-1v1h-7v-1h-1v-1h-1v-7h1v-1h1zM-.5-6.5h1v13h-1z" fill="#c8c800" shape-rendering="crispEdges"/>
<path transform="translate(1104.5 530.5)" d="M-3.5-5.5h7v1h1v1h1v7h-1v1h-1v1h-7v-1h-1v-1h-1v-7h1v-1h1zM-.5-6.5h1v13h-1z" fill="#c8c800" shape-rendering="crispEdges"/>
<path transform="translate(1151.5 530.5)" d="M-3.5-5.5h7v1h1v1h1v7h-1v1h-1v1h-7v-1h-1v-1h-1v-7h1v-1h1zM-.5-6.5h1v13h-1z" fill="#c8c800" shape-rendering="crispEdges"/>
<path transform="translate(1157.5 529.5)" d="M-3.5-5.5h7v1h1v1h1v7h-1v1h-1v1h-7v-1h-1v-1h-1v-7h1v-1h1zM-.5-6.5h1v13h-1z" fill="#c8c800" shape-rendering="crispEdges"/>
<path transform="translate(1203.5 526.5)" d="M-3.5-5.5h7v1h1v1h1v7h-1v1h-1v1h-7v-1h-1v-1h-1v-7h1v-1h1zM-.5-6.5h1v13h-1z" fill="#c8c800" shape-rendering="crispEdges"/>
<path transform="translate(1210.5 530.5)" d="M-3.5-5.5h7v1h1v1h1v7h-1v1h-1v1h-7v-1h-1v-1h-1v-7h1v-1h1zM-.5-6.5h1v13h-1z" fill="#c8c800" shape-rendering="crispEdges"/>
<path transform="translate(1256.5 528.5)" d="M-3.5-5.5h7v1h1v1h1v7h-1v1h-1v1h-7v-1h-1v-1h-1v-7h1v-1h1zM-.5-6.5h1v13h-1z" fill="#c8c800" shape-rendering="crispEdges"/>
<path transform="translate(1262.5 525.5)" d="M-3.5-5.5h7v1h1v1h1v7h-1v1h-1v1h-7v-1h-1v-1h-1v-7h1v-1h1zM-.5-6.5h1v13h-1z" fill="#c8c800" shape-rendering="crispEdges"/>
<path transform="translate(1309.5 527.5)" d="M-3.5-5.5h7v1h1v1h1v7h-1v1h-1v1h-7v-1h-1v-1h-1v-7h1v-1h1zM-.5-6.5h1v13h-1z" fill="#c8c800" shape-rendering="crispEdges"/>
<path transform="translate(1315.5 530.5)" d="M-3.5-5.5h7v1h1v1h1v7h-1v1h-1v1h-7v-1h-1v-1h-1v-7h1v-1h1zM-.5-6.5h1v13h-1z" fill="#c8c800" shape-rendering="crispEdges"/>
<path transform="translate(1362.5 530.5)" d="M-3.5-5.5h7v1h1v1h1v7h-1v1h-1v1h-7v-1h-1v-1h-1v-7h1v-1h1zM-.5-6.5h1v13h-1z" fill="#c8c800" shape-rendering="crispEdges"/>
<path transform="translate(1316.5 186.5)" d="M-3.5-5.5h7v1h1v1h1v7h-1v1h-1v1h-7v-1h-1v-1h-1v-7h1v-1h1zM-.5-6.5h1v13h-1z" fill="#c8c800" shape-rendering="crispEdges"/>
<path d="M206.5 456.5L198.5 468.5L214.5 468.5Z" fill="none" stroke="#4169e1" stroke-width="1" shape-rendering="crispEdges"/>
<path d="M914.5 456.5L906.5 468.5L922.5 468.5Z" fill="none" stroke="#4169e1" stroke-width="1" shape-rendering="crispEdges"/>
<path d="M1143.5 456.5L1135.5 468.5L1151.5 468.5Z" fill="none" stroke="#4169e1" stroke-width="1" shape-rendering="crispEdges"/>
<path d="M1284.5 456.5L1276.5 468.5L1292.5 468.5Z" fill="none" stroke="#4169e1" stroke-width="1" shape-rendering="crispEdges"/>
<path d="M1293.5 456.5L1285.5 468.5L1301.5 468.5Z" fill="none" stroke="#4169e1" stroke-width="1" shape-rendering="crispEdges"/>
<path d="M1316.5 197.5L1308.5 209.5L1324.5 209.5Z" fill="none" stroke="#4169e1" stroke-width="1" shape-rendering="crispEdges"/>
<path d="M1316.5 216.5L1308.5 228.5L1324.5 228.5Z" fill="#ffc020" stroke="#ffc020" stroke-width="1" shape-rendering="crispEdges"/>
<path d="M1310.0 243.5h13M1316.5 237.0v13" stroke="#008040" stroke-width="1" fill="none" shape-rendering="crispEdges"/>
<path d="M1316.5 270.5L1308.5 258.5L1324.5 258.5Z" fill="none" stroke="#c080ff" stroke-width="1" shape-rendering="crispEdges"/>
<path d="M93 350H163L155 363H101Z" fill="#306080" shape-rendering="crispEdges"/>
<path d="M198 350H1375L1367 363H206Z" fill="#306080" shape-rendering="crispEdges"/>
<rect x="760" y="362" width="1" height="1" fill="#fff" shape-rendering="crispEdges"/>
<rect x="897" y="362" width="1" height="1" fill="#fff" shape-rendering="crispEdges"/>
<rect x="1020" y="362" width="1" height="1" fill="#fff" shape-rendering="crispEdges"/>
<rect x="1087" y="362" width="1" height="1" fill="#fff" shape-rendering="crispEdges"/>
<rect x="1213" y="362" width="1" height="1" fill="#fff" shape-rendering="crispEdges"/>
<rect x="1274" y="362" width="1" height="1" fill="#fff" shape-rendering="crispEdges"/>
<rect x="1331" y="362" width="1" height="1" fill="#fff" shape-rendering="crispEdges"/>
<rect x="283" y="362" width="1" height="1" fill="#fff" shape-rendering="crispEdges"/>
<rect x="455" y="362" width="1" height="1" fill="#fff" shape-rendering="crispEdges"/>
<path d="M1316.5 289.5L1308.5 277.5L1324.5 277.5Z" fill="none" stroke="#306080" stroke-width="1" shape-rendering="crispEdges"/>
<g shape-rendering="crispEdges">
<rect x="101" y="57" width="1266" height="1" fill="#000"/>
<rect x="101" y="539" width="1266" height="1" fill="#000"/>
<rect x="101" y="57" width="1" height="483" fill="#000"/>
<rect x="1366" y="57" width="1" height="483" fill="#000"/>
</g>
</svg>
</body></html>
